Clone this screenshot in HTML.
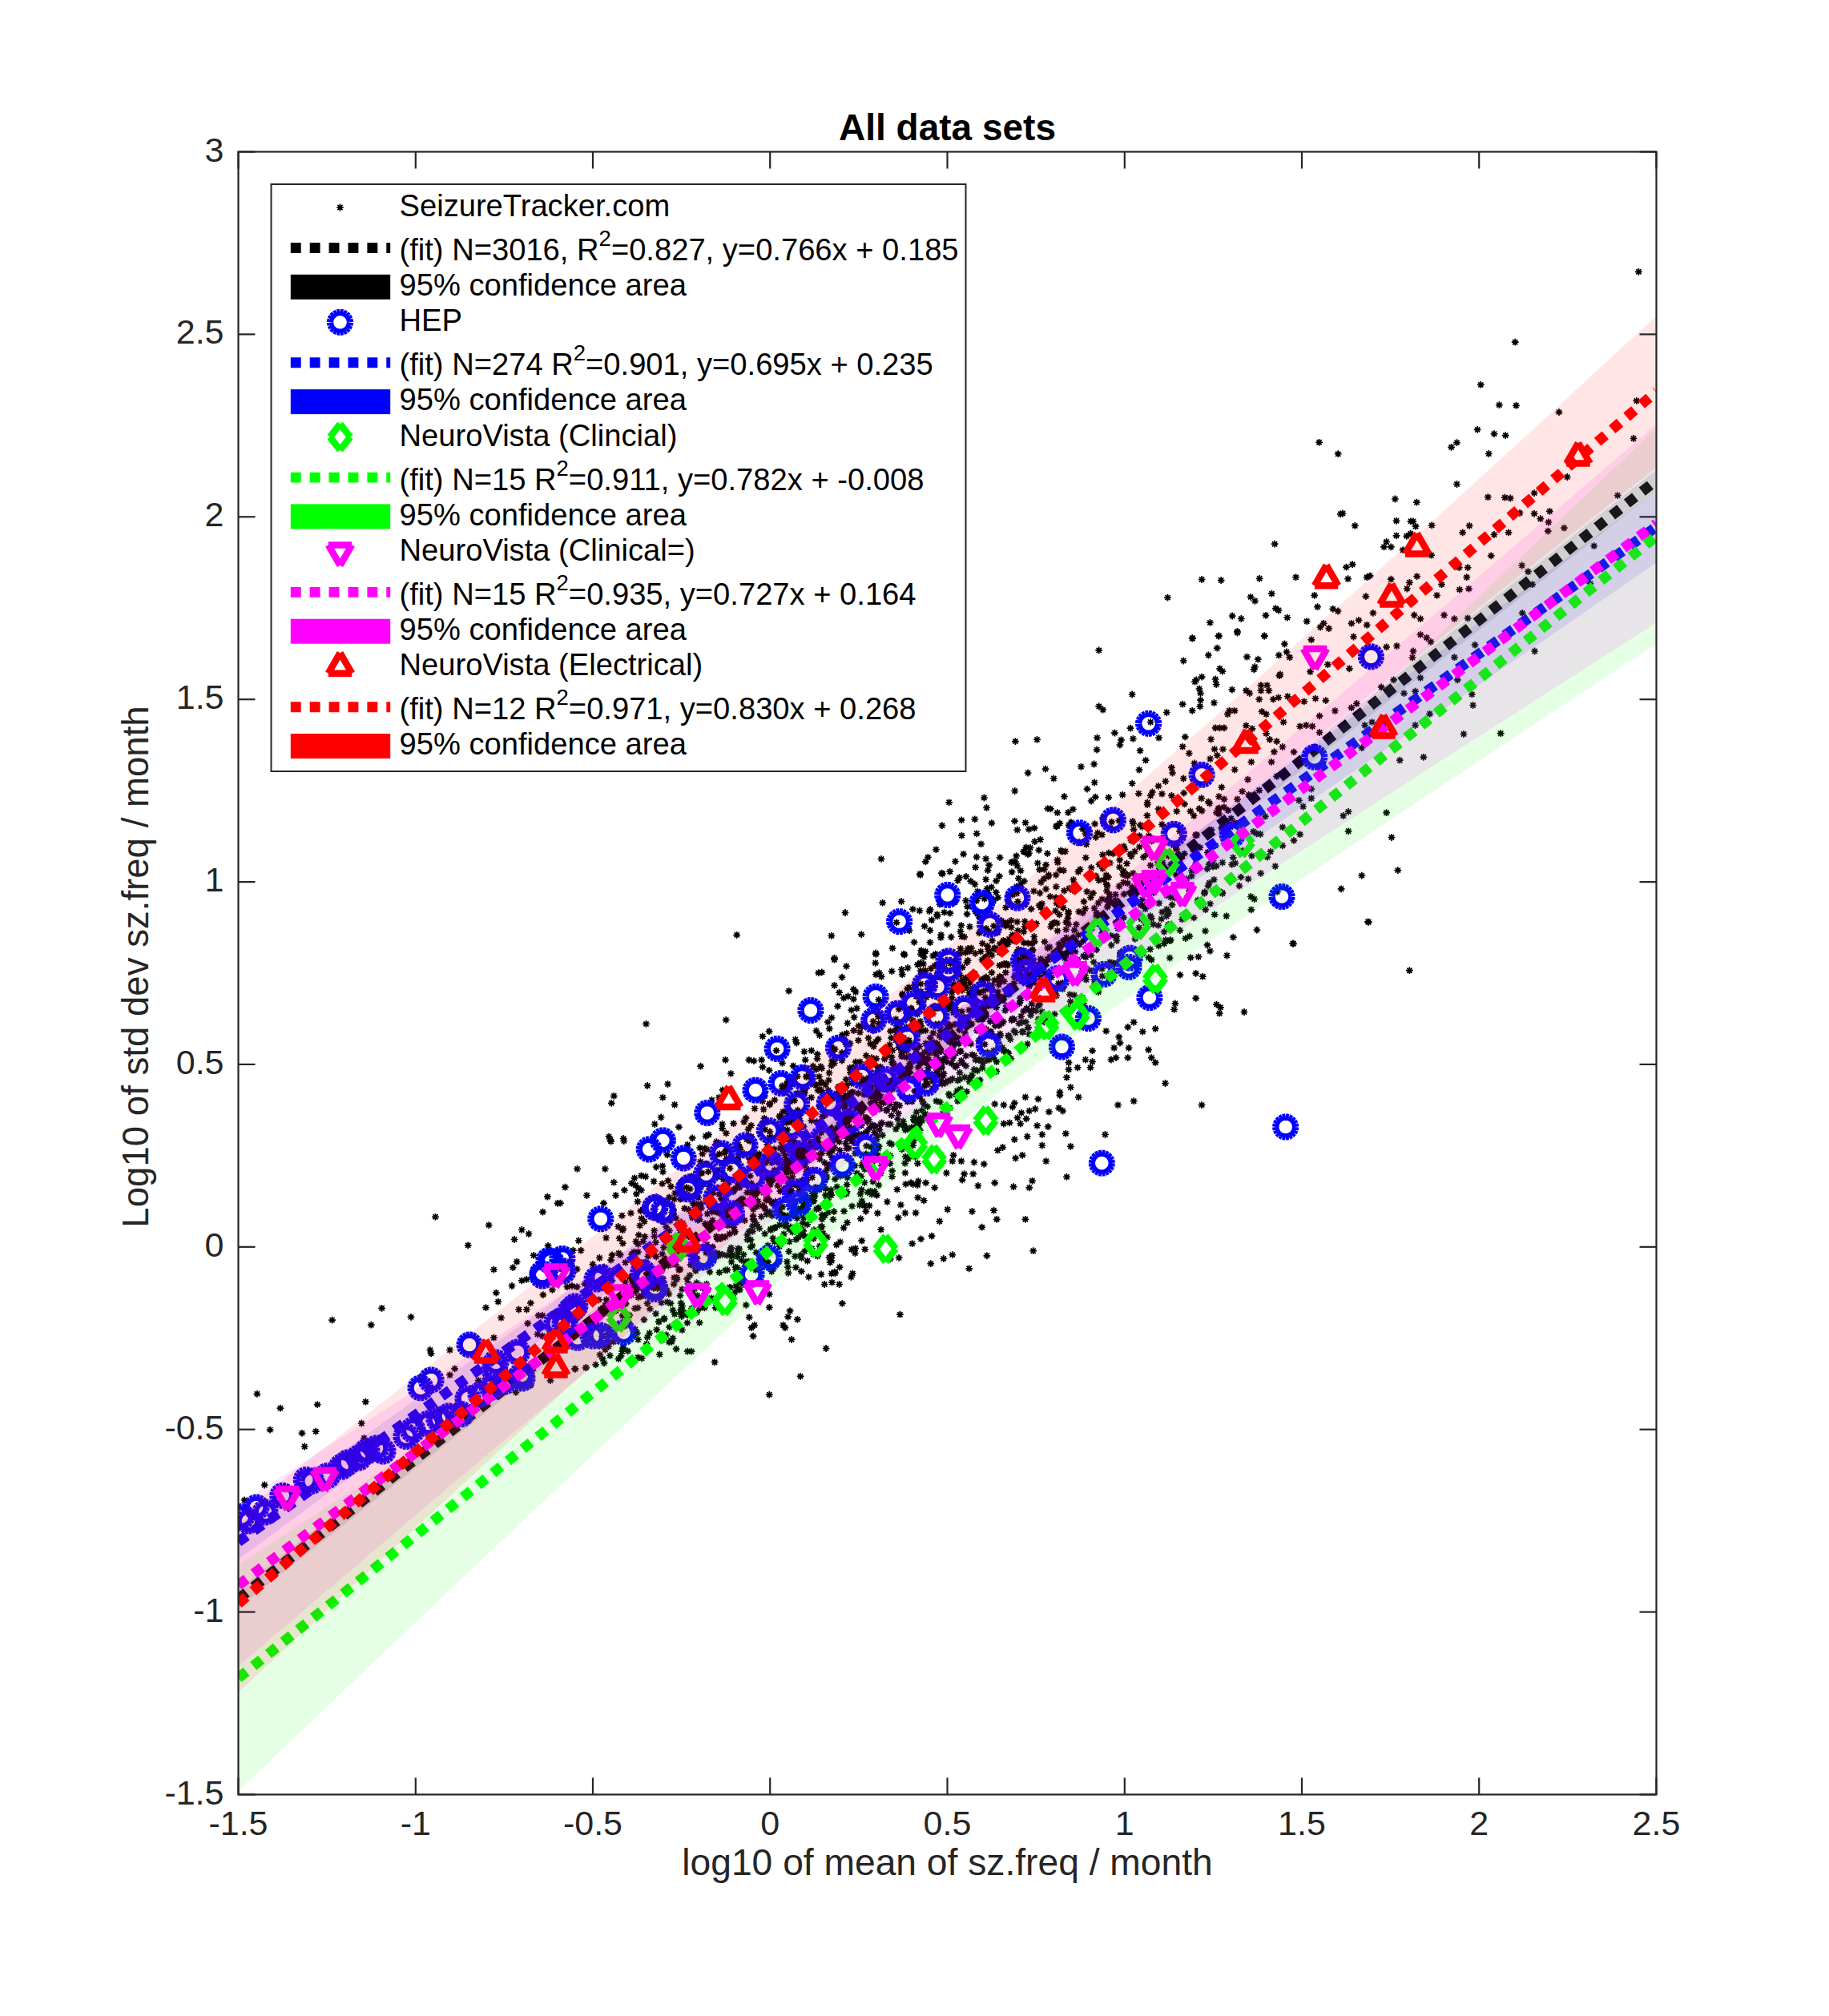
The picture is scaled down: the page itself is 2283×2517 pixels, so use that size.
<!DOCTYPE html><html><head><meta charset="utf-8"><style>html,body{margin:0;padding:0;background:#fff;width:2283px;height:2517px;overflow:hidden}svg{display:block}text{font-family:"Liberation Sans", sans-serif}</style></head><body>
<svg width="2283" height="2517" viewBox="0 0 2283 2517">
<rect width="100%" height="100%" fill="#fff"/>
<defs><clipPath id="ax"><rect x="297.5" y="189.5" width="1770.0" height="2051.0"/></clipPath>
<g id="s"><circle r="2.6"/><path d="M-4.4 0h8.8M0 -4.4v8.8M-3.1 -3.1l6.2 6.2M-3.1 3.1l6.2 -6.2" stroke="#000" stroke-width="1.7"/></g>
<path id="mc" d="M12.50 0.00L11.89 3.86M11.89 3.86L10.11 7.35M10.11 7.35L7.35 10.11M7.35 10.11L3.86 11.89M3.86 11.89L0.00 12.50M0.00 12.50L-3.86 11.89M-3.86 11.89L-7.35 10.11M-7.35 10.11L-10.11 7.35M-10.11 7.35L-11.89 3.86M-11.89 3.86L-12.50 0.00M-12.50 0.00L-11.89 -3.86M-11.89 -3.86L-10.11 -7.35M-10.11 -7.35L-7.35 -10.11M-7.35 -10.11L-3.86 -11.89M-3.86 -11.89L-0.00 -12.50M-0.00 -12.50L3.86 -11.89M3.86 -11.89L7.35 -10.11M7.35 -10.11L10.11 -7.35M10.11 -7.35L11.89 -3.86M11.89 -3.86L12.50 0.00" fill="none" stroke="#0000ff" stroke-width="8.4"/>
<path id="md" d="M0.00 -16.30L12.70 0.00M12.70 0.00L0.00 16.30M0.00 16.30L-12.70 0.00M-12.70 0.00L0.00 -16.30" fill="none" stroke="#00ff00" stroke-width="8.5"/>
<path id="mv" d="M0.00 17.00L14.72 -8.50M14.72 -8.50L-14.72 -8.50M-14.72 -8.50L0.00 17.00" fill="none" stroke="#ff00ff" stroke-width="8.5"/>
<path id="mu" d="M0.00 -17.00L14.72 8.50M14.72 8.50L-14.72 8.50M-14.72 8.50L0.00 -17.00" fill="none" stroke="#ff0000" stroke-width="8.5"/>
</defs>
<g clip-path="url(#ax)">
<g><use href="#s" x="1060.0" y="1386.8"/><use href="#s" x="1014.9" y="1331.2"/><use href="#s" x="944.9" y="1506.2"/><use href="#s" x="772.3" y="1564.7"/><use href="#s" x="851.3" y="1609.6"/><use href="#s" x="938.7" y="1491.5"/><use href="#s" x="1186.4" y="1202.9"/><use href="#s" x="1093.2" y="1382.0"/><use href="#s" x="1324.2" y="1062.0"/><use href="#s" x="1197.5" y="1095.7"/><use href="#s" x="1237.5" y="1121.9"/><use href="#s" x="1171.2" y="1313.3"/><use href="#s" x="1055.0" y="1367.8"/><use href="#s" x="1450.4" y="1029.3"/><use href="#s" x="873.2" y="1651.4"/><use href="#s" x="1234.6" y="1080.1"/><use href="#s" x="988.9" y="1463.0"/><use href="#s" x="1288.5" y="1227.1"/><use href="#s" x="1115.9" y="1350.3"/><use href="#s" x="1243.3" y="1114.1"/><use href="#s" x="1362.2" y="1083.5"/><use href="#s" x="960.8" y="1377.9"/><use href="#s" x="952.7" y="1573.9"/><use href="#s" x="1371.6" y="1099.1"/><use href="#s" x="960.7" y="1513.1"/><use href="#s" x="1287.1" y="1263.3"/><use href="#s" x="1157.7" y="1381.6"/><use href="#s" x="876.8" y="1440.6"/><use href="#s" x="1023.2" y="1447.2"/><use href="#s" x="1075.1" y="1405.2"/><use href="#s" x="985.0" y="1534.5"/><use href="#s" x="1087.6" y="1346.5"/><use href="#s" x="1456.2" y="1143.9"/><use href="#s" x="1156.6" y="1327.1"/><use href="#s" x="1198.9" y="1184.3"/><use href="#s" x="1155.8" y="1347.2"/><use href="#s" x="1110.8" y="1378.8"/><use href="#s" x="1053.3" y="1391.6"/><use href="#s" x="1060.6" y="1365.8"/><use href="#s" x="1205.0" y="1221.1"/><use href="#s" x="1168.5" y="1338.8"/><use href="#s" x="1240.5" y="1156.2"/><use href="#s" x="1011.5" y="1426.7"/><use href="#s" x="1138.4" y="1375.3"/><use href="#s" x="1218.0" y="1235.4"/><use href="#s" x="1233.5" y="1185.5"/><use href="#s" x="1024.7" y="1351.9"/><use href="#s" x="998.4" y="1443.0"/><use href="#s" x="1173.1" y="1129.1"/><use href="#s" x="920.4" y="1568.9"/><use href="#s" x="1334.1" y="1030.3"/><use href="#s" x="1273.9" y="1219.4"/><use href="#s" x="1133.8" y="1446.7"/><use href="#s" x="1134.7" y="1232.8"/><use href="#s" x="911.0" y="1607.3"/><use href="#s" x="1495.9" y="1194.6"/><use href="#s" x="906.8" y="1434.8"/><use href="#s" x="976.8" y="1435.4"/><use href="#s" x="866.2" y="1623.2"/><use href="#s" x="1030.4" y="1472.5"/><use href="#s" x="1366.0" y="1134.0"/><use href="#s" x="900.9" y="1544.8"/><use href="#s" x="1150.8" y="1386.4"/><use href="#s" x="1445.3" y="1076.1"/><use href="#s" x="1147.4" y="1401.1"/><use href="#s" x="912.6" y="1557.9"/><use href="#s" x="1162.0" y="1209.3"/><use href="#s" x="771.7" y="1531.5"/><use href="#s" x="753.5" y="1637.8"/><use href="#s" x="1514.0" y="1082.2"/><use href="#s" x="1250.0" y="1149.5"/><use href="#s" x="1038.0" y="1574.0"/><use href="#s" x="982.0" y="1353.5"/><use href="#s" x="1321.7" y="1128.9"/><use href="#s" x="1080.9" y="1440.6"/><use href="#s" x="1095.1" y="1417.3"/><use href="#s" x="913.8" y="1449.0"/><use href="#s" x="1062.7" y="1364.5"/><use href="#s" x="849.0" y="1617.6"/><use href="#s" x="977.9" y="1422.5"/><use href="#s" x="1490.2" y="1145.9"/><use href="#s" x="1054.8" y="1393.8"/><use href="#s" x="1184.7" y="1001.8"/><use href="#s" x="775.3" y="1624.4"/><use href="#s" x="1237.9" y="1214.4"/><use href="#s" x="983.5" y="1582.1"/><use href="#s" x="1121.4" y="1390.1"/><use href="#s" x="1086.9" y="1376.9"/><use href="#s" x="754.1" y="1701.8"/><use href="#s" x="1071.3" y="1365.0"/><use href="#s" x="1432.2" y="1004.7"/><use href="#s" x="942.8" y="1487.2"/><use href="#s" x="1148.2" y="1369.3"/><use href="#s" x="833.9" y="1474.2"/><use href="#s" x="1487.5" y="1093.7"/><use href="#s" x="965.1" y="1466.9"/><use href="#s" x="1090.9" y="1388.6"/><use href="#s" x="1137.0" y="1264.4"/><use href="#s" x="1241.5" y="1223.7"/><use href="#s" x="762.3" y="1665.1"/><use href="#s" x="1246.7" y="1229.5"/><use href="#s" x="1366.6" y="1028.6"/><use href="#s" x="996.7" y="1544.5"/><use href="#s" x="944.0" y="1443.7"/><use href="#s" x="1439.4" y="1154.0"/><use href="#s" x="1151.4" y="1374.8"/><use href="#s" x="1514.0" y="1074.7"/><use href="#s" x="1247.6" y="1189.0"/><use href="#s" x="905.4" y="1585.9"/><use href="#s" x="1071.8" y="1281.0"/><use href="#s" x="867.0" y="1609.0"/><use href="#s" x="1339.8" y="1098.5"/><use href="#s" x="1187.8" y="1327.9"/><use href="#s" x="1131.5" y="1282.5"/><use href="#s" x="1153.8" y="1356.0"/><use href="#s" x="1204.1" y="1345.0"/><use href="#s" x="1468.4" y="1060.3"/><use href="#s" x="1053.4" y="1414.5"/><use href="#s" x="1334.6" y="1109.2"/><use href="#s" x="975.1" y="1419.5"/><use href="#s" x="1351.4" y="1035.1"/><use href="#s" x="1344.3" y="1204.6"/><use href="#s" x="1210.1" y="1350.6"/><use href="#s" x="1257.9" y="1205.0"/><use href="#s" x="895.6" y="1469.3"/><use href="#s" x="973.3" y="1514.6"/><use href="#s" x="1232.1" y="1250.3"/><use href="#s" x="1236.9" y="1288.2"/><use href="#s" x="1458.6" y="1068.5"/><use href="#s" x="960.8" y="1379.0"/><use href="#s" x="947.1" y="1445.9"/><use href="#s" x="803.0" y="1607.8"/><use href="#s" x="1253.3" y="1225.2"/><use href="#s" x="1424.6" y="1147.6"/><use href="#s" x="976.5" y="1359.0"/><use href="#s" x="798.8" y="1530.1"/><use href="#s" x="1044.4" y="1367.4"/><use href="#s" x="1278.0" y="1177.1"/><use href="#s" x="1146.3" y="1474.6"/><use href="#s" x="1005.6" y="1511.2"/><use href="#s" x="1053.5" y="1512.2"/><use href="#s" x="1014.2" y="1490.2"/><use href="#s" x="1144.1" y="1314.4"/><use href="#s" x="973.1" y="1547.9"/><use href="#s" x="1492.4" y="1079.0"/><use href="#s" x="1320.3" y="1076.8"/><use href="#s" x="1115.2" y="1327.7"/><use href="#s" x="1489.4" y="1061.1"/><use href="#s" x="1258.6" y="1292.9"/><use href="#s" x="1108.1" y="1360.6"/><use href="#s" x="921.2" y="1563.4"/><use href="#s" x="1311.4" y="1009.9"/><use href="#s" x="911.7" y="1561.8"/><use href="#s" x="1187.4" y="1252.8"/><use href="#s" x="876.2" y="1464.4"/><use href="#s" x="1385.8" y="1033.6"/><use href="#s" x="1054.9" y="1301.0"/><use href="#s" x="1096.2" y="1434.0"/><use href="#s" x="1433.9" y="1043.6"/><use href="#s" x="1536.7" y="1021.9"/><use href="#s" x="921.1" y="1523.8"/><use href="#s" x="1280.8" y="1057.9"/><use href="#s" x="1539.3" y="1170.1"/><use href="#s" x="1348.6" y="1221.9"/><use href="#s" x="1535.9" y="1032.6"/><use href="#s" x="1351.3" y="1245.8"/><use href="#s" x="1069.7" y="1396.4"/><use href="#s" x="1087.3" y="1356.4"/><use href="#s" x="1088.0" y="1320.6"/><use href="#s" x="1216.2" y="1317.8"/><use href="#s" x="1131.0" y="1339.2"/><use href="#s" x="1210.5" y="1224.1"/><use href="#s" x="1581.9" y="1070.1"/><use href="#s" x="1122.8" y="1380.3"/><use href="#s" x="832.5" y="1611.1"/><use href="#s" x="1224.4" y="1296.2"/><use href="#s" x="1198.9" y="1162.9"/><use href="#s" x="772.0" y="1696.6"/><use href="#s" x="1013.3" y="1558.9"/><use href="#s" x="951.6" y="1374.8"/><use href="#s" x="1178.9" y="1201.4"/><use href="#s" x="1229.3" y="1257.0"/><use href="#s" x="981.7" y="1471.7"/><use href="#s" x="1068.3" y="1338.7"/><use href="#s" x="762.6" y="1573.1"/><use href="#s" x="1316.5" y="1151.7"/><use href="#s" x="1427.2" y="1101.9"/><use href="#s" x="1213.4" y="1316.8"/><use href="#s" x="1384.0" y="1064.9"/><use href="#s" x="1510.4" y="1187.4"/><use href="#s" x="1170.7" y="1335.3"/><use href="#s" x="849.8" y="1476.5"/><use href="#s" x="1209.6" y="1261.0"/><use href="#s" x="1090.9" y="1406.6"/><use href="#s" x="1512.1" y="1036.1"/><use href="#s" x="1144.2" y="1318.2"/><use href="#s" x="1349.7" y="1219.4"/><use href="#s" x="871.8" y="1510.7"/><use href="#s" x="1212.9" y="1278.5"/><use href="#s" x="1217.8" y="1323.3"/><use href="#s" x="1073.5" y="1325.8"/><use href="#s" x="1085.6" y="1328.3"/><use href="#s" x="1107.0" y="1374.2"/><use href="#s" x="995.8" y="1364.8"/><use href="#s" x="954.0" y="1506.9"/><use href="#s" x="932.7" y="1488.9"/><use href="#s" x="1280.0" y="1027.2"/><use href="#s" x="1025.7" y="1333.8"/><use href="#s" x="1193.1" y="1315.0"/><use href="#s" x="1521.5" y="1112.8"/><use href="#s" x="843.6" y="1579.1"/><use href="#s" x="896.6" y="1567.9"/><use href="#s" x="1518.4" y="1014.6"/><use href="#s" x="1252.5" y="1174.3"/><use href="#s" x="1272.2" y="1307.7"/><use href="#s" x="1318.6" y="1243.2"/><use href="#s" x="1126.6" y="1345.6"/><use href="#s" x="831.5" y="1531.9"/><use href="#s" x="1126.1" y="1366.0"/><use href="#s" x="983.6" y="1349.8"/><use href="#s" x="1187.2" y="1170.0"/><use href="#s" x="829.1" y="1646.0"/><use href="#s" x="1414.5" y="1028.4"/><use href="#s" x="1231.2" y="1285.0"/><use href="#s" x="1191.7" y="1295.2"/><use href="#s" x="1243.6" y="1257.8"/><use href="#s" x="1266.0" y="1272.7"/><use href="#s" x="1041.5" y="1432.7"/><use href="#s" x="1438.1" y="1111.3"/><use href="#s" x="1219.8" y="1140.7"/><use href="#s" x="1152.4" y="1323.4"/><use href="#s" x="1194.4" y="1211.4"/><use href="#s" x="1089.9" y="1286.8"/><use href="#s" x="1131.9" y="1284.1"/><use href="#s" x="1074.0" y="1490.7"/><use href="#s" x="777.8" y="1682.3"/><use href="#s" x="1053.1" y="1394.0"/><use href="#s" x="981.4" y="1451.4"/><use href="#s" x="1247.4" y="1093.9"/><use href="#s" x="976.7" y="1516.8"/><use href="#s" x="1145.4" y="1479.5"/><use href="#s" x="1568.7" y="1040.8"/><use href="#s" x="1437.5" y="1046.5"/><use href="#s" x="1331.0" y="1170.8"/><use href="#s" x="1264.5" y="1076.0"/><use href="#s" x="915.7" y="1532.1"/><use href="#s" x="1257.6" y="1151.8"/><use href="#s" x="881.3" y="1611.0"/><use href="#s" x="1352.2" y="1174.8"/><use href="#s" x="830.7" y="1608.6"/><use href="#s" x="1124.9" y="1355.5"/><use href="#s" x="1007.4" y="1473.3"/><use href="#s" x="844.8" y="1597.4"/><use href="#s" x="1137.0" y="1265.1"/><use href="#s" x="1291.7" y="1226.1"/><use href="#s" x="820.6" y="1608.6"/><use href="#s" x="1202.9" y="1223.2"/><use href="#s" x="1118.3" y="1409.7"/><use href="#s" x="1351.5" y="1204.6"/><use href="#s" x="981.4" y="1401.7"/><use href="#s" x="1130.2" y="1432.0"/><use href="#s" x="1002.4" y="1362.7"/><use href="#s" x="1289.2" y="1154.2"/><use href="#s" x="1175.0" y="1295.0"/><use href="#s" x="975.6" y="1414.3"/><use href="#s" x="910.8" y="1514.1"/><use href="#s" x="1024.6" y="1532.0"/><use href="#s" x="1318.1" y="1092.4"/><use href="#s" x="1155.1" y="1392.5"/><use href="#s" x="1101.1" y="1355.8"/><use href="#s" x="1291.2" y="1033.9"/><use href="#s" x="763.7" y="1590.7"/><use href="#s" x="1064.8" y="1332.6"/><use href="#s" x="843.7" y="1520.8"/><use href="#s" x="1113.0" y="1319.9"/><use href="#s" x="1452.4" y="1099.8"/><use href="#s" x="850.0" y="1627.0"/><use href="#s" x="844.6" y="1565.1"/><use href="#s" x="918.0" y="1483.9"/><use href="#s" x="958.7" y="1575.9"/><use href="#s" x="791.9" y="1568.7"/><use href="#s" x="902.9" y="1472.4"/><use href="#s" x="1030.6" y="1484.1"/><use href="#s" x="1288.2" y="1178.0"/><use href="#s" x="1018.9" y="1335.1"/><use href="#s" x="1515.3" y="1098.3"/><use href="#s" x="1354.4" y="1218.2"/><use href="#s" x="981.2" y="1448.1"/><use href="#s" x="1421.8" y="1158.3"/><use href="#s" x="863.1" y="1515.2"/><use href="#s" x="1181.3" y="1318.8"/><use href="#s" x="1322.3" y="1141.9"/><use href="#s" x="999.0" y="1475.7"/><use href="#s" x="1057.5" y="1526.5"/><use href="#s" x="1458.3" y="1154.5"/><use href="#s" x="849.4" y="1488.5"/><use href="#s" x="1017.5" y="1430.8"/><use href="#s" x="1246.5" y="1150.4"/><use href="#s" x="1206.7" y="1362.9"/><use href="#s" x="1176.5" y="1091.0"/><use href="#s" x="929.5" y="1523.7"/><use href="#s" x="1149.2" y="1395.8"/><use href="#s" x="1240.2" y="1312.0"/><use href="#s" x="1490.2" y="1018.5"/><use href="#s" x="1071.9" y="1416.2"/><use href="#s" x="1187.6" y="1256.4"/><use href="#s" x="1410.8" y="1066.3"/><use href="#s" x="856.4" y="1564.8"/><use href="#s" x="1452.9" y="1064.8"/><use href="#s" x="1245.7" y="1120.6"/><use href="#s" x="1116.4" y="1384.2"/><use href="#s" x="885.1" y="1481.1"/><use href="#s" x="915.6" y="1528.7"/><use href="#s" x="983.4" y="1390.4"/><use href="#s" x="882.4" y="1554.0"/><use href="#s" x="1042.5" y="1589.5"/><use href="#s" x="1446.7" y="1127.7"/><use href="#s" x="822.4" y="1650.0"/><use href="#s" x="1533.5" y="1043.0"/><use href="#s" x="1003.1" y="1505.0"/><use href="#s" x="1291.6" y="1050.7"/><use href="#s" x="1296.7" y="1061.4"/><use href="#s" x="1382.2" y="1106.0"/><use href="#s" x="961.8" y="1534.5"/><use href="#s" x="1047.9" y="1360.9"/><use href="#s" x="756.8" y="1622.7"/><use href="#s" x="1253.8" y="1179.6"/><use href="#s" x="1132.6" y="1375.5"/><use href="#s" x="832.8" y="1625.6"/><use href="#s" x="1237.5" y="1107.6"/><use href="#s" x="1002.1" y="1508.7"/><use href="#s" x="1238.6" y="1230.0"/><use href="#s" x="1177.9" y="1340.2"/><use href="#s" x="1262.3" y="1231.3"/><use href="#s" x="1027.8" y="1385.8"/><use href="#s" x="861.3" y="1484.4"/><use href="#s" x="1231.7" y="1323.5"/><use href="#s" x="1300.7" y="1263.2"/><use href="#s" x="1330.5" y="1190.5"/><use href="#s" x="1328.4" y="1112.1"/><use href="#s" x="1378.5" y="1167.0"/><use href="#s" x="1139.7" y="1478.6"/><use href="#s" x="912.2" y="1506.6"/><use href="#s" x="873.2" y="1522.6"/><use href="#s" x="801.2" y="1617.7"/><use href="#s" x="1059.4" y="1370.1"/><use href="#s" x="917.4" y="1517.1"/><use href="#s" x="955.5" y="1444.1"/><use href="#s" x="927.7" y="1497.0"/><use href="#s" x="1509.9" y="1003.0"/><use href="#s" x="1107.4" y="1500.5"/><use href="#s" x="1060.0" y="1447.3"/><use href="#s" x="1159.1" y="1322.9"/><use href="#s" x="769.1" y="1626.9"/><use href="#s" x="1415.1" y="1035.6"/><use href="#s" x="1293.5" y="1216.1"/><use href="#s" x="1013.8" y="1470.0"/><use href="#s" x="1257.9" y="1178.9"/><use href="#s" x="1184.7" y="1282.6"/><use href="#s" x="1128.5" y="1405.1"/><use href="#s" x="1295.3" y="1077.6"/><use href="#s" x="985.1" y="1494.8"/><use href="#s" x="1090.0" y="1275.3"/><use href="#s" x="1242.2" y="1280.8"/><use href="#s" x="1116.2" y="1384.8"/><use href="#s" x="792.7" y="1598.6"/><use href="#s" x="985.4" y="1550.2"/><use href="#s" x="775.9" y="1589.8"/><use href="#s" x="910.8" y="1540.4"/><use href="#s" x="887.8" y="1620.8"/><use href="#s" x="1080.2" y="1348.3"/><use href="#s" x="868.0" y="1584.2"/><use href="#s" x="863.3" y="1468.6"/><use href="#s" x="906.2" y="1528.2"/><use href="#s" x="1126.4" y="1241.0"/><use href="#s" x="856.3" y="1560.8"/><use href="#s" x="1259.4" y="1241.3"/><use href="#s" x="1129.8" y="1429.5"/><use href="#s" x="1237.7" y="1293.7"/><use href="#s" x="1472.6" y="1037.8"/><use href="#s" x="826.2" y="1673.0"/><use href="#s" x="875.3" y="1508.4"/><use href="#s" x="988.0" y="1505.2"/><use href="#s" x="1026.3" y="1394.0"/><use href="#s" x="1120.8" y="1353.6"/><use href="#s" x="1435.7" y="1047.6"/><use href="#s" x="817.5" y="1604.3"/><use href="#s" x="1088.1" y="1383.5"/><use href="#s" x="1341.4" y="1103.9"/><use href="#s" x="1276.6" y="1288.2"/><use href="#s" x="864.3" y="1520.3"/><use href="#s" x="1025.8" y="1439.8"/><use href="#s" x="904.3" y="1467.4"/><use href="#s" x="1027.4" y="1539.8"/><use href="#s" x="1011.5" y="1444.8"/><use href="#s" x="1075.1" y="1352.0"/><use href="#s" x="1414.4" y="1090.3"/><use href="#s" x="1264.1" y="1117.0"/><use href="#s" x="1252.3" y="1151.7"/><use href="#s" x="1356.0" y="1167.1"/><use href="#s" x="856.9" y="1482.6"/><use href="#s" x="1088.7" y="1404.5"/><use href="#s" x="956.5" y="1398.8"/><use href="#s" x="1312.5" y="1220.2"/><use href="#s" x="869.9" y="1503.7"/><use href="#s" x="961.3" y="1479.3"/><use href="#s" x="1435.7" y="1185.2"/><use href="#s" x="1038.0" y="1307.2"/><use href="#s" x="1310.3" y="1182.5"/><use href="#s" x="1329.7" y="1179.1"/><use href="#s" x="1057.5" y="1445.8"/><use href="#s" x="1118.3" y="1378.7"/><use href="#s" x="1196.6" y="1296.2"/><use href="#s" x="1191.0" y="1314.9"/><use href="#s" x="1149.4" y="1191.3"/><use href="#s" x="999.5" y="1435.3"/><use href="#s" x="1233.9" y="1255.7"/><use href="#s" x="808.0" y="1627.4"/><use href="#s" x="1100.7" y="1401.8"/><use href="#s" x="1046.3" y="1357.2"/><use href="#s" x="907.3" y="1567.3"/><use href="#s" x="1293.1" y="1262.0"/><use href="#s" x="838.3" y="1549.4"/><use href="#s" x="1478.5" y="1003.9"/><use href="#s" x="1121.3" y="1520.4"/><use href="#s" x="873.9" y="1633.3"/><use href="#s" x="1323.0" y="1086.2"/><use href="#s" x="826.8" y="1583.4"/><use href="#s" x="1075.8" y="1455.3"/><use href="#s" x="1254.9" y="1204.2"/><use href="#s" x="1458.6" y="1140.3"/><use href="#s" x="1547.0" y="1106.0"/><use href="#s" x="1246.9" y="1280.4"/><use href="#s" x="1236.2" y="1288.4"/><use href="#s" x="942.9" y="1456.3"/><use href="#s" x="787.5" y="1514.6"/><use href="#s" x="1232.4" y="1313.9"/><use href="#s" x="1170.0" y="1324.5"/><use href="#s" x="773.7" y="1656.8"/><use href="#s" x="1126.4" y="1285.4"/><use href="#s" x="1372.1" y="1079.2"/><use href="#s" x="800.9" y="1618.2"/><use href="#s" x="800.8" y="1521.2"/><use href="#s" x="759.0" y="1665.9"/><use href="#s" x="1219.0" y="1070.0"/><use href="#s" x="1524.6" y="1034.0"/><use href="#s" x="1280.5" y="1275.9"/><use href="#s" x="1002.2" y="1542.2"/><use href="#s" x="1516.1" y="1141.9"/><use href="#s" x="1078.6" y="1366.6"/><use href="#s" x="1019.0" y="1509.6"/><use href="#s" x="1190.2" y="1229.0"/><use href="#s" x="1295.6" y="1256.0"/><use href="#s" x="1135.2" y="1330.7"/><use href="#s" x="777.8" y="1534.0"/><use href="#s" x="1453.2" y="1178.1"/><use href="#s" x="1311.7" y="1157.0"/><use href="#s" x="951.6" y="1505.3"/><use href="#s" x="981.4" y="1359.8"/><use href="#s" x="1042.3" y="1472.1"/><use href="#s" x="1289.8" y="1260.9"/><use href="#s" x="1397.5" y="1082.6"/><use href="#s" x="1007.6" y="1528.8"/><use href="#s" x="756.6" y="1545.5"/><use href="#s" x="925.6" y="1573.3"/><use href="#s" x="996.9" y="1439.1"/><use href="#s" x="867.0" y="1504.8"/><use href="#s" x="1332.9" y="1146.4"/><use href="#s" x="748.8" y="1691.5"/><use href="#s" x="1284.5" y="1231.1"/><use href="#s" x="1226.7" y="1272.2"/><use href="#s" x="1112.5" y="1295.9"/><use href="#s" x="1248.6" y="1220.1"/><use href="#s" x="1111.4" y="1403.6"/><use href="#s" x="1126.6" y="1318.3"/><use href="#s" x="857.9" y="1651.6"/><use href="#s" x="1240.3" y="1124.7"/><use href="#s" x="1308.3" y="1198.2"/><use href="#s" x="861.0" y="1615.0"/><use href="#s" x="1461.6" y="1079.4"/><use href="#s" x="1155.3" y="1075.9"/><use href="#s" x="1131.6" y="1264.8"/><use href="#s" x="923.4" y="1482.7"/><use href="#s" x="1220.0" y="1336.8"/><use href="#s" x="1216.7" y="1215.4"/><use href="#s" x="949.3" y="1576.8"/><use href="#s" x="831.7" y="1575.3"/><use href="#s" x="825.3" y="1587.0"/><use href="#s" x="1277.8" y="1163.3"/><use href="#s" x="1486.2" y="1195.6"/><use href="#s" x="839.4" y="1557.4"/><use href="#s" x="1241.2" y="1183.9"/><use href="#s" x="915.9" y="1509.5"/><use href="#s" x="943.0" y="1486.2"/><use href="#s" x="1475.6" y="1147.8"/><use href="#s" x="1222.1" y="1323.6"/><use href="#s" x="1127.4" y="1400.0"/><use href="#s" x="1005.6" y="1518.0"/><use href="#s" x="1568.9" y="1161.0"/><use href="#s" x="844.6" y="1594.9"/><use href="#s" x="942.6" y="1492.2"/><use href="#s" x="1054.5" y="1415.7"/><use href="#s" x="857.6" y="1596.9"/><use href="#s" x="1269.6" y="1189.3"/><use href="#s" x="952.6" y="1450.7"/><use href="#s" x="1265.8" y="1227.9"/><use href="#s" x="850.4" y="1541.8"/><use href="#s" x="1422.4" y="1043.7"/><use href="#s" x="1192.2" y="1302.6"/><use href="#s" x="1175.4" y="1332.0"/><use href="#s" x="1331.0" y="1190.6"/><use href="#s" x="1010.4" y="1496.4"/><use href="#s" x="1456.3" y="1135.3"/><use href="#s" x="1039.0" y="1426.5"/><use href="#s" x="819.4" y="1603.7"/><use href="#s" x="777.9" y="1683.1"/><use href="#s" x="1064.3" y="1393.2"/><use href="#s" x="1018.5" y="1355.3"/><use href="#s" x="989.0" y="1538.2"/><use href="#s" x="997.9" y="1488.2"/><use href="#s" x="1220.3" y="1113.0"/><use href="#s" x="1521.7" y="1016.2"/><use href="#s" x="1084.9" y="1324.6"/><use href="#s" x="898.3" y="1565.6"/><use href="#s" x="975.9" y="1426.6"/><use href="#s" x="788.0" y="1616.8"/><use href="#s" x="805.8" y="1576.1"/><use href="#s" x="1383.5" y="1095.2"/><use href="#s" x="1053.1" y="1533.0"/><use href="#s" x="1158.5" y="1333.1"/><use href="#s" x="1176.1" y="1353.3"/><use href="#s" x="1416.0" y="1119.1"/><use href="#s" x="1254.7" y="1261.6"/><use href="#s" x="986.6" y="1453.4"/><use href="#s" x="1080.8" y="1512.4"/><use href="#s" x="1352.5" y="1193.7"/><use href="#s" x="1137.1" y="1476.7"/><use href="#s" x="1025.4" y="1361.9"/><use href="#s" x="1226.2" y="1333.3"/><use href="#s" x="1415.5" y="1146.3"/><use href="#s" x="921.6" y="1429.1"/><use href="#s" x="849.3" y="1639.0"/><use href="#s" x="1252.3" y="1275.7"/><use href="#s" x="1273.3" y="1246.0"/><use href="#s" x="1496.9" y="1009.7"/><use href="#s" x="984.0" y="1481.5"/><use href="#s" x="1091.6" y="1376.7"/><use href="#s" x="973.9" y="1487.2"/><use href="#s" x="1297.1" y="1233.8"/><use href="#s" x="835.6" y="1656.9"/><use href="#s" x="1268.9" y="1107.0"/><use href="#s" x="1137.1" y="1258.8"/><use href="#s" x="1288.0" y="1220.0"/><use href="#s" x="1046.7" y="1365.0"/><use href="#s" x="1238.1" y="1319.1"/><use href="#s" x="1303.4" y="1085.4"/><use href="#s" x="1015.9" y="1498.8"/><use href="#s" x="1002.3" y="1480.1"/><use href="#s" x="839.0" y="1505.5"/><use href="#s" x="1091.9" y="1381.4"/><use href="#s" x="1192.4" y="1075.5"/><use href="#s" x="1093.9" y="1382.0"/><use href="#s" x="1204.1" y="1227.2"/><use href="#s" x="930.3" y="1575.7"/><use href="#s" x="836.0" y="1552.7"/><use href="#s" x="1142.3" y="1323.3"/><use href="#s" x="1259.1" y="1293.6"/><use href="#s" x="1539.2" y="1070.8"/><use href="#s" x="1283.0" y="1196.7"/><use href="#s" x="1143.7" y="1397.1"/><use href="#s" x="1123.9" y="1344.9"/><use href="#s" x="874.5" y="1605.0"/><use href="#s" x="1355.8" y="1223.2"/><use href="#s" x="884.1" y="1462.9"/><use href="#s" x="1507.4" y="1064.3"/><use href="#s" x="1335.4" y="1241.6"/><use href="#s" x="941.2" y="1441.2"/><use href="#s" x="1143.5" y="1244.0"/><use href="#s" x="1058.3" y="1417.9"/><use href="#s" x="1000.6" y="1474.1"/><use href="#s" x="837.1" y="1627.4"/><use href="#s" x="1298.0" y="1115.0"/><use href="#s" x="1050.9" y="1324.0"/><use href="#s" x="967.8" y="1532.5"/><use href="#s" x="1361.4" y="1120.5"/><use href="#s" x="870.1" y="1570.9"/><use href="#s" x="1086.3" y="1365.7"/><use href="#s" x="1152.1" y="1256.1"/><use href="#s" x="937.6" y="1405.1"/><use href="#s" x="873.7" y="1433.2"/><use href="#s" x="765.8" y="1675.2"/><use href="#s" x="951.9" y="1461.8"/><use href="#s" x="1061.0" y="1302.7"/><use href="#s" x="854.9" y="1494.4"/><use href="#s" x="1576.1" y="1066.8"/><use href="#s" x="826.6" y="1477.9"/><use href="#s" x="1170.2" y="1214.8"/><use href="#s" x="1336.9" y="1026.6"/><use href="#s" x="932.2" y="1422.5"/><use href="#s" x="1217.6" y="1137.9"/><use href="#s" x="917.4" y="1537.5"/><use href="#s" x="1472.9" y="1161.5"/><use href="#s" x="1484.8" y="1168.9"/><use href="#s" x="816.9" y="1543.6"/><use href="#s" x="1040.6" y="1421.8"/><use href="#s" x="1135.3" y="1370.3"/><use href="#s" x="1369.6" y="1232.2"/><use href="#s" x="1316.0" y="1241.2"/><use href="#s" x="1167.0" y="1205.4"/><use href="#s" x="1037.6" y="1330.6"/><use href="#s" x="1155.2" y="1390.8"/><use href="#s" x="859.7" y="1543.9"/><use href="#s" x="1245.4" y="1164.3"/><use href="#s" x="1029.6" y="1517.5"/><use href="#s" x="1389.6" y="1202.9"/><use href="#s" x="823.4" y="1691.0"/><use href="#s" x="1111.1" y="1571.8"/><use href="#s" x="1200.0" y="1324.3"/><use href="#s" x="1275.5" y="1207.0"/><use href="#s" x="992.8" y="1400.6"/><use href="#s" x="760.4" y="1662.2"/><use href="#s" x="788.6" y="1566.0"/><use href="#s" x="1149.7" y="1287.5"/><use href="#s" x="936.4" y="1468.1"/><use href="#s" x="1381.6" y="1123.6"/><use href="#s" x="1495.2" y="1123.9"/><use href="#s" x="1046.3" y="1414.5"/><use href="#s" x="754.0" y="1582.0"/><use href="#s" x="1321.1" y="1228.0"/><use href="#s" x="1234.9" y="1188.6"/><use href="#s" x="1380.8" y="1092.7"/><use href="#s" x="1155.2" y="1187.9"/><use href="#s" x="869.6" y="1638.6"/><use href="#s" x="1427.4" y="1070.2"/><use href="#s" x="1255.5" y="1133.1"/><use href="#s" x="1165.5" y="1258.0"/><use href="#s" x="1116.8" y="1253.6"/><use href="#s" x="1217.4" y="1190.4"/><use href="#s" x="1056.3" y="1304.1"/><use href="#s" x="1277.5" y="1262.5"/><use href="#s" x="1084.0" y="1296.0"/><use href="#s" x="1009.1" y="1460.4"/><use href="#s" x="1049.1" y="1405.2"/><use href="#s" x="1144.8" y="1364.4"/><use href="#s" x="963.7" y="1517.8"/><use href="#s" x="921.7" y="1601.6"/><use href="#s" x="928.7" y="1400.7"/><use href="#s" x="1082.5" y="1364.7"/><use href="#s" x="1224.2" y="1188.1"/><use href="#s" x="1180.4" y="1189.1"/><use href="#s" x="813.7" y="1595.2"/><use href="#s" x="1287.4" y="1157.3"/><use href="#s" x="1015.1" y="1443.6"/><use href="#s" x="886.4" y="1507.2"/><use href="#s" x="1398.5" y="1190.6"/><use href="#s" x="1333.7" y="1153.8"/><use href="#s" x="1230.6" y="1072.2"/><use href="#s" x="1034.1" y="1361.1"/><use href="#s" x="1091.2" y="1439.3"/><use href="#s" x="1192.5" y="1332.1"/><use href="#s" x="1131.8" y="1342.7"/><use href="#s" x="1392.4" y="1116.8"/><use href="#s" x="1119.9" y="1291.7"/><use href="#s" x="1174.6" y="1167.2"/><use href="#s" x="1021.6" y="1441.8"/><use href="#s" x="1170.0" y="1143.9"/><use href="#s" x="1449.7" y="1147.4"/><use href="#s" x="1354.7" y="1134.5"/><use href="#s" x="1224.6" y="1053.8"/><use href="#s" x="1095.6" y="1266.2"/><use href="#s" x="907.9" y="1585.6"/><use href="#s" x="1277.5" y="1193.8"/><use href="#s" x="923.0" y="1559.5"/><use href="#s" x="957.1" y="1448.8"/><use href="#s" x="1242.6" y="1184.9"/><use href="#s" x="1175.2" y="1333.2"/><use href="#s" x="1315.3" y="1197.2"/><use href="#s" x="1213.3" y="1342.3"/><use href="#s" x="840.7" y="1545.4"/><use href="#s" x="934.5" y="1418.7"/><use href="#s" x="1429.5" y="1152.5"/><use href="#s" x="1143.1" y="1406.9"/><use href="#s" x="1142.3" y="1444.4"/><use href="#s" x="1249.6" y="1221.1"/><use href="#s" x="1162.9" y="1148.7"/><use href="#s" x="747.5" y="1622.8"/><use href="#s" x="1222.3" y="1143.0"/><use href="#s" x="1099.2" y="1332.1"/><use href="#s" x="908.4" y="1477.5"/><use href="#s" x="910.0" y="1476.0"/><use href="#s" x="1132.5" y="1299.9"/><use href="#s" x="1503.8" y="1113.7"/><use href="#s" x="994.0" y="1398.3"/><use href="#s" x="1136.1" y="1318.9"/><use href="#s" x="789.0" y="1599.0"/><use href="#s" x="1207.1" y="1141.2"/><use href="#s" x="935.8" y="1447.1"/><use href="#s" x="1044.7" y="1408.1"/><use href="#s" x="1169.4" y="1341.7"/><use href="#s" x="1370.9" y="1127.5"/><use href="#s" x="1352.9" y="1125.7"/><use href="#s" x="835.5" y="1536.5"/><use href="#s" x="1157.6" y="1228.2"/><use href="#s" x="862.7" y="1605.1"/><use href="#s" x="960.9" y="1412.9"/><use href="#s" x="921.7" y="1609.3"/><use href="#s" x="1341.6" y="1202.5"/><use href="#s" x="1185.6" y="1383.3"/><use href="#s" x="1006.8" y="1462.7"/><use href="#s" x="850.0" y="1634.7"/><use href="#s" x="1051.6" y="1381.8"/><use href="#s" x="1160.8" y="1344.1"/><use href="#s" x="1064.2" y="1589.9"/><use href="#s" x="1298.0" y="1246.4"/><use href="#s" x="1007.8" y="1448.3"/><use href="#s" x="1341.1" y="1161.3"/><use href="#s" x="954.0" y="1396.3"/><use href="#s" x="1329.7" y="1063.0"/><use href="#s" x="994.9" y="1521.1"/><use href="#s" x="987.4" y="1449.4"/><use href="#s" x="1077.5" y="1451.1"/><use href="#s" x="923.1" y="1432.4"/><use href="#s" x="1254.0" y="1154.5"/><use href="#s" x="1035.1" y="1569.9"/><use href="#s" x="1262.2" y="1149.3"/><use href="#s" x="1429.7" y="1134.7"/><use href="#s" x="1291.4" y="1175.6"/><use href="#s" x="792.9" y="1659.8"/><use href="#s" x="1210.4" y="1187.9"/><use href="#s" x="1367.8" y="1045.3"/><use href="#s" x="963.8" y="1420.1"/><use href="#s" x="1134.6" y="1298.9"/><use href="#s" x="1267.5" y="1289.2"/><use href="#s" x="1425.8" y="1032.4"/><use href="#s" x="1079.0" y="1364.3"/><use href="#s" x="773.2" y="1546.2"/><use href="#s" x="883.4" y="1610.5"/><use href="#s" x="862.4" y="1637.9"/><use href="#s" x="1090.5" y="1306.5"/><use href="#s" x="1586.0" y="1063.2"/><use href="#s" x="1078.0" y="1415.7"/><use href="#s" x="963.2" y="1587.5"/><use href="#s" x="999.8" y="1540.1"/><use href="#s" x="791.2" y="1667.4"/><use href="#s" x="1198.9" y="1359.6"/><use href="#s" x="1253.4" y="1244.5"/><use href="#s" x="954.4" y="1368.4"/><use href="#s" x="1383.8" y="1220.3"/><use href="#s" x="1067.4" y="1564.5"/><use href="#s" x="776.4" y="1517.8"/><use href="#s" x="1141.6" y="1234.3"/><use href="#s" x="854.5" y="1508.7"/><use href="#s" x="1207.5" y="1132.1"/><use href="#s" x="1033.5" y="1497.7"/><use href="#s" x="1021.1" y="1361.4"/><use href="#s" x="966.9" y="1373.4"/><use href="#s" x="1304.5" y="1214.8"/><use href="#s" x="1132.5" y="1271.1"/><use href="#s" x="940.3" y="1509.9"/><use href="#s" x="848.0" y="1483.5"/><use href="#s" x="782.0" y="1607.7"/><use href="#s" x="1022.6" y="1381.4"/><use href="#s" x="982.6" y="1485.1"/><use href="#s" x="749.4" y="1657.9"/><use href="#s" x="1036.7" y="1426.3"/><use href="#s" x="1168.6" y="1374.7"/><use href="#s" x="825.7" y="1521.9"/><use href="#s" x="1267.7" y="1200.4"/><use href="#s" x="976.2" y="1507.0"/><use href="#s" x="1336.2" y="1250.4"/><use href="#s" x="1407.8" y="1093.6"/><use href="#s" x="1356.8" y="1113.2"/><use href="#s" x="861.4" y="1565.4"/><use href="#s" x="1208.1" y="1199.1"/><use href="#s" x="961.3" y="1582.6"/><use href="#s" x="958.0" y="1564.3"/><use href="#s" x="1283.3" y="1282.8"/><use href="#s" x="1227.7" y="1237.1"/><use href="#s" x="1407.5" y="1102.7"/><use href="#s" x="1005.0" y="1505.2"/><use href="#s" x="1517.1" y="1055.7"/><use href="#s" x="1370.1" y="1040.0"/><use href="#s" x="1086.9" y="1369.5"/><use href="#s" x="1198.3" y="1217.6"/><use href="#s" x="1475.5" y="1045.8"/><use href="#s" x="1126.6" y="1242.3"/><use href="#s" x="1128.2" y="1295.9"/><use href="#s" x="921.2" y="1477.8"/><use href="#s" x="1508.3" y="1001.1"/><use href="#s" x="1079.1" y="1476.5"/><use href="#s" x="1003.1" y="1520.2"/><use href="#s" x="827.5" y="1596.4"/><use href="#s" x="1225.4" y="1273.1"/><use href="#s" x="1225.9" y="1198.3"/><use href="#s" x="914.5" y="1617.8"/><use href="#s" x="865.2" y="1502.3"/><use href="#s" x="1454.9" y="1173.7"/><use href="#s" x="1183.4" y="1315.5"/><use href="#s" x="1371.1" y="1238.5"/><use href="#s" x="1093.8" y="1349.8"/><use href="#s" x="1215.8" y="1335.5"/><use href="#s" x="1287.8" y="1253.3"/><use href="#s" x="1375.9" y="1218.8"/><use href="#s" x="997.3" y="1488.6"/><use href="#s" x="1247.8" y="1219.2"/><use href="#s" x="942.9" y="1492.2"/><use href="#s" x="894.3" y="1543.7"/><use href="#s" x="1160.9" y="1161.5"/><use href="#s" x="958.5" y="1555.0"/><use href="#s" x="1423.9" y="1130.1"/><use href="#s" x="1061.2" y="1413.2"/><use href="#s" x="1361.8" y="1192.6"/><use href="#s" x="796.6" y="1553.4"/><use href="#s" x="940.0" y="1518.1"/><use href="#s" x="999.3" y="1434.9"/><use href="#s" x="991.0" y="1514.9"/><use href="#s" x="976.5" y="1355.7"/><use href="#s" x="822.4" y="1650.3"/><use href="#s" x="1147.8" y="1318.3"/><use href="#s" x="1143.2" y="1344.7"/><use href="#s" x="1108.1" y="1349.7"/><use href="#s" x="1065.7" y="1409.3"/><use href="#s" x="1078.9" y="1505.3"/><use href="#s" x="1375.5" y="1209.6"/><use href="#s" x="1269.8" y="1036.2"/><use href="#s" x="957.8" y="1428.8"/><use href="#s" x="748.3" y="1570.5"/><use href="#s" x="1319.0" y="1127.6"/><use href="#s" x="1283.3" y="1283.1"/><use href="#s" x="1088.1" y="1491.0"/><use href="#s" x="1107.4" y="1385.1"/><use href="#s" x="920.2" y="1582.6"/><use href="#s" x="1148.3" y="1411.2"/><use href="#s" x="932.9" y="1547.8"/><use href="#s" x="896.4" y="1461.8"/><use href="#s" x="1095.9" y="1336.9"/><use href="#s" x="1166.6" y="1256.1"/><use href="#s" x="1431.9" y="1018.2"/><use href="#s" x="921.1" y="1558.8"/><use href="#s" x="1296.8" y="1285.9"/><use href="#s" x="944.5" y="1528.9"/><use href="#s" x="783.6" y="1686.8"/><use href="#s" x="992.2" y="1435.4"/><use href="#s" x="1307.8" y="1009.6"/><use href="#s" x="980.0" y="1442.2"/><use href="#s" x="1192.0" y="1126.2"/><use href="#s" x="1137.6" y="1260.0"/><use href="#s" x="1095.4" y="1514.7"/><use href="#s" x="796.2" y="1632.9"/><use href="#s" x="1139.5" y="1349.3"/><use href="#s" x="1268.6" y="1068.7"/><use href="#s" x="1198.2" y="1190.8"/><use href="#s" x="879.4" y="1632.8"/><use href="#s" x="1188.6" y="1302.9"/><use href="#s" x="1254.9" y="1176.8"/><use href="#s" x="1130.6" y="1478.4"/><use href="#s" x="1136.6" y="1420.9"/><use href="#s" x="826.6" y="1565.7"/><use href="#s" x="1273.9" y="1249.1"/><use href="#s" x="1174.7" y="1329.8"/><use href="#s" x="1119.5" y="1280.8"/><use href="#s" x="1195.6" y="1099.4"/><use href="#s" x="1466.6" y="1121.0"/><use href="#s" x="982.7" y="1385.4"/><use href="#s" x="1185.5" y="1368.0"/><use href="#s" x="1050.1" y="1402.0"/><use href="#s" x="1034.4" y="1348.6"/><use href="#s" x="964.8" y="1546.0"/><use href="#s" x="1426.0" y="1123.1"/><use href="#s" x="1118.0" y="1286.3"/><use href="#s" x="1221.5" y="1119.3"/><use href="#s" x="1022.6" y="1485.2"/><use href="#s" x="1481.3" y="1097.3"/><use href="#s" x="1222.3" y="1164.8"/><use href="#s" x="1407.0" y="1092.0"/><use href="#s" x="1092.9" y="1406.2"/><use href="#s" x="1367.6" y="1228.1"/><use href="#s" x="881.7" y="1453.1"/><use href="#s" x="1385.4" y="1077.4"/><use href="#s" x="1248.1" y="1070.6"/><use href="#s" x="1193.3" y="1366.7"/><use href="#s" x="1349.6" y="1204.6"/><use href="#s" x="1385.4" y="1201.3"/><use href="#s" x="1309.0" y="1092.4"/><use href="#s" x="1063.5" y="1505.9"/><use href="#s" x="825.5" y="1626.4"/><use href="#s" x="900.3" y="1496.9"/><use href="#s" x="910.2" y="1529.3"/><use href="#s" x="1274.7" y="1206.6"/><use href="#s" x="1158.0" y="1310.6"/><use href="#s" x="802.6" y="1510.0"/><use href="#s" x="1086.5" y="1303.2"/><use href="#s" x="1255.5" y="1156.1"/><use href="#s" x="1223.3" y="1239.3"/><use href="#s" x="1319.8" y="1014.7"/><use href="#s" x="1123.4" y="1307.1"/><use href="#s" x="1321.9" y="1178.7"/><use href="#s" x="1049.2" y="1372.1"/><use href="#s" x="1250.6" y="1204.7"/><use href="#s" x="1454.0" y="1086.5"/><use href="#s" x="1149.6" y="1238.0"/><use href="#s" x="1401.6" y="1091.5"/><use href="#s" x="1074.3" y="1521.6"/><use href="#s" x="1200.4" y="1169.2"/><use href="#s" x="1093.4" y="1368.9"/><use href="#s" x="859.6" y="1612.9"/><use href="#s" x="832.5" y="1577.4"/><use href="#s" x="1167.6" y="1279.2"/><use href="#s" x="1463.1" y="1129.7"/><use href="#s" x="1000.3" y="1587.3"/><use href="#s" x="1042.3" y="1422.4"/><use href="#s" x="1386.8" y="1125.9"/><use href="#s" x="1159.9" y="1234.2"/><use href="#s" x="1035.1" y="1339.5"/><use href="#s" x="901.7" y="1566.4"/><use href="#s" x="1227.4" y="1294.7"/><use href="#s" x="1339.0" y="1111.3"/><use href="#s" x="1023.2" y="1555.8"/><use href="#s" x="1099.2" y="1465.1"/><use href="#s" x="1181.4" y="1254.8"/><use href="#s" x="1288.8" y="1199.3"/><use href="#s" x="1276.8" y="1308.2"/><use href="#s" x="960.4" y="1420.2"/><use href="#s" x="997.2" y="1479.0"/><use href="#s" x="936.2" y="1424.7"/><use href="#s" x="1164.9" y="1289.7"/><use href="#s" x="1347.6" y="1255.4"/><use href="#s" x="797.3" y="1541.9"/><use href="#s" x="1387.2" y="1180.0"/><use href="#s" x="1357.4" y="1189.2"/><use href="#s" x="748.0" y="1680.5"/><use href="#s" x="1087.3" y="1432.0"/><use href="#s" x="986.9" y="1531.9"/><use href="#s" x="1197.4" y="1227.5"/><use href="#s" x="1006.8" y="1344.6"/><use href="#s" x="1099.8" y="1368.9"/><use href="#s" x="1232.7" y="1234.6"/><use href="#s" x="1061.5" y="1338.8"/><use href="#s" x="1185.1" y="1281.0"/><use href="#s" x="1062.9" y="1352.3"/><use href="#s" x="995.4" y="1511.1"/><use href="#s" x="1199.9" y="1155.4"/><use href="#s" x="1479.8" y="1171.6"/><use href="#s" x="1149.5" y="1318.4"/><use href="#s" x="1236.0" y="1275.4"/><use href="#s" x="1039.5" y="1312.3"/><use href="#s" x="924.1" y="1435.1"/><use href="#s" x="1173.4" y="1125.8"/><use href="#s" x="1247.7" y="1205.3"/><use href="#s" x="1188.2" y="1238.9"/><use href="#s" x="915.6" y="1402.7"/><use href="#s" x="1509.7" y="1067.7"/><use href="#s" x="1284.4" y="1035.3"/><use href="#s" x="1192.8" y="1208.2"/><use href="#s" x="1120.6" y="1397.1"/><use href="#s" x="1057.8" y="1470.3"/><use href="#s" x="793.8" y="1612.7"/><use href="#s" x="796.8" y="1608.4"/><use href="#s" x="1259.2" y="1119.1"/><use href="#s" x="979.1" y="1364.3"/><use href="#s" x="755.5" y="1685.1"/><use href="#s" x="1527.9" y="1007.8"/><use href="#s" x="895.5" y="1547.1"/><use href="#s" x="1226.7" y="1260.0"/><use href="#s" x="1135.2" y="1268.3"/><use href="#s" x="1149.1" y="1212.0"/><use href="#s" x="1310.9" y="1119.4"/><use href="#s" x="1413.0" y="1117.1"/><use href="#s" x="935.1" y="1537.4"/><use href="#s" x="1091.8" y="1487.5"/><use href="#s" x="954.8" y="1410.2"/><use href="#s" x="1451.9" y="1099.3"/><use href="#s" x="1045.9" y="1417.8"/><use href="#s" x="1131.9" y="1299.3"/><use href="#s" x="1185.7" y="1088.2"/><use href="#s" x="1318.1" y="1120.7"/><use href="#s" x="897.3" y="1514.2"/><use href="#s" x="1493.8" y="1042.7"/><use href="#s" x="1265.8" y="1287.1"/><use href="#s" x="837.5" y="1481.4"/><use href="#s" x="1240.2" y="1320.8"/><use href="#s" x="1537.7" y="1079.3"/><use href="#s" x="836.4" y="1524.1"/><use href="#s" x="1208.1" y="1184.5"/><use href="#s" x="1346.1" y="1167.4"/><use href="#s" x="937.6" y="1419.1"/><use href="#s" x="1003.1" y="1406.7"/><use href="#s" x="1393.9" y="1169.1"/><use href="#s" x="902.8" y="1468.6"/><use href="#s" x="851.4" y="1660.5"/><use href="#s" x="1384.9" y="1116.4"/><use href="#s" x="1153.9" y="1313.8"/><use href="#s" x="1128.8" y="1301.3"/><use href="#s" x="1167.4" y="1358.3"/><use href="#s" x="1198.2" y="1312.8"/><use href="#s" x="999.1" y="1484.6"/><use href="#s" x="984.9" y="1400.3"/><use href="#s" x="1025.1" y="1414.0"/><use href="#s" x="1226.8" y="1222.4"/><use href="#s" x="978.4" y="1484.7"/><use href="#s" x="888.5" y="1513.0"/><use href="#s" x="842.0" y="1640.7"/><use href="#s" x="819.1" y="1569.0"/><use href="#s" x="1041.0" y="1512.7"/><use href="#s" x="900.0" y="1489.3"/><use href="#s" x="822.9" y="1599.1"/><use href="#s" x="847.5" y="1585.6"/><use href="#s" x="1270.9" y="1215.0"/><use href="#s" x="835.1" y="1675.6"/><use href="#s" x="1114.3" y="1359.8"/><use href="#s" x="982.3" y="1464.3"/><use href="#s" x="1108.1" y="1446.9"/><use href="#s" x="956.7" y="1516.2"/><use href="#s" x="1086.8" y="1356.5"/><use href="#s" x="1233.0" y="1086.6"/><use href="#s" x="1087.4" y="1362.8"/><use href="#s" x="1210.5" y="1157.0"/><use href="#s" x="1161.2" y="1135.5"/><use href="#s" x="1148.6" y="1275.3"/><use href="#s" x="1279.5" y="1189.8"/><use href="#s" x="1168.2" y="1344.4"/><use href="#s" x="1048.7" y="1550.6"/><use href="#s" x="998.6" y="1399.0"/><use href="#s" x="1296.1" y="1272.5"/><use href="#s" x="1055.2" y="1381.4"/><use href="#s" x="913.0" y="1575.5"/><use href="#s" x="1323.8" y="1182.3"/><use href="#s" x="1096.2" y="1297.4"/><use href="#s" x="905.2" y="1544.4"/><use href="#s" x="811.3" y="1634.1"/><use href="#s" x="1004.0" y="1504.0"/><use href="#s" x="1432.0" y="1058.1"/><use href="#s" x="1303.2" y="1097.2"/><use href="#s" x="1004.5" y="1364.4"/><use href="#s" x="1012.7" y="1370.3"/><use href="#s" x="1145.2" y="1266.2"/><use href="#s" x="1000.7" y="1439.7"/><use href="#s" x="1310.6" y="1194.4"/><use href="#s" x="764.1" y="1566.9"/><use href="#s" x="1226.3" y="1177.9"/><use href="#s" x="1290.8" y="1169.5"/><use href="#s" x="1461.4" y="1120.3"/><use href="#s" x="973.8" y="1433.5"/><use href="#s" x="819.9" y="1602.2"/><use href="#s" x="1108.8" y="1353.2"/><use href="#s" x="1065.6" y="1286.7"/><use href="#s" x="1500.3" y="1012.4"/><use href="#s" x="1404.3" y="1092.8"/><use href="#s" x="1200.4" y="1043.2"/><use href="#s" x="1142.7" y="1229.5"/><use href="#s" x="1086.7" y="1325.8"/><use href="#s" x="1056.2" y="1374.1"/><use href="#s" x="1399.5" y="1203.4"/><use href="#s" x="1307.4" y="1065.6"/><use href="#s" x="1301.6" y="1206.3"/><use href="#s" x="933.2" y="1502.0"/><use href="#s" x="1381.5" y="1112.4"/><use href="#s" x="753.0" y="1679.3"/><use href="#s" x="1103.5" y="1344.7"/><use href="#s" x="1381.2" y="1104.2"/><use href="#s" x="1067.1" y="1455.4"/><use href="#s" x="932.7" y="1542.0"/><use href="#s" x="1155.7" y="1353.2"/><use href="#s" x="1290.5" y="1223.6"/><use href="#s" x="1022.5" y="1344.3"/><use href="#s" x="1225.0" y="1223.7"/><use href="#s" x="1465.7" y="1075.2"/><use href="#s" x="1382.3" y="1132.4"/><use href="#s" x="1307.3" y="1197.8"/><use href="#s" x="1118.3" y="1272.5"/><use href="#s" x="785.8" y="1594.7"/><use href="#s" x="1376.6" y="1159.9"/><use href="#s" x="1180.1" y="1352.0"/><use href="#s" x="758.9" y="1657.7"/><use href="#s" x="1030.3" y="1464.0"/><use href="#s" x="1004.5" y="1562.2"/><use href="#s" x="1073.4" y="1288.7"/><use href="#s" x="1064.6" y="1340.8"/><use href="#s" x="749.1" y="1604.0"/><use href="#s" x="937.1" y="1547.9"/><use href="#s" x="1157.4" y="1321.2"/><use href="#s" x="876.9" y="1608.2"/><use href="#s" x="1383.3" y="1130.0"/><use href="#s" x="1138.1" y="1407.7"/><use href="#s" x="1423.8" y="1145.4"/><use href="#s" x="1096.7" y="1351.1"/><use href="#s" x="1019.7" y="1400.6"/><use href="#s" x="1026.0" y="1522.2"/><use href="#s" x="906.4" y="1414.9"/><use href="#s" x="780.2" y="1626.8"/><use href="#s" x="1404.0" y="1201.5"/><use href="#s" x="1508.0" y="1106.1"/><use href="#s" x="1243.9" y="1325.7"/><use href="#s" x="982.0" y="1459.1"/><use href="#s" x="1317.5" y="1137.3"/><use href="#s" x="1081.5" y="1430.7"/><use href="#s" x="1166.0" y="1301.6"/><use href="#s" x="1351.6" y="1139.9"/><use href="#s" x="1198.2" y="1347.3"/><use href="#s" x="923.5" y="1610.4"/><use href="#s" x="1189.9" y="1233.3"/><use href="#s" x="1395.4" y="1159.1"/><use href="#s" x="839.0" y="1578.1"/><use href="#s" x="1149.0" y="1337.2"/><use href="#s" x="848.9" y="1584.7"/><use href="#s" x="973.5" y="1551.3"/><use href="#s" x="1004.8" y="1448.0"/><use href="#s" x="1097.1" y="1431.2"/><use href="#s" x="1115.4" y="1330.0"/><use href="#s" x="1277.7" y="1063.1"/><use href="#s" x="1375.5" y="1042.2"/><use href="#s" x="1060.7" y="1333.5"/><use href="#s" x="865.1" y="1615.1"/><use href="#s" x="819.4" y="1605.6"/><use href="#s" x="984.8" y="1473.7"/><use href="#s" x="1171.9" y="1278.6"/><use href="#s" x="1453.1" y="1163.4"/><use href="#s" x="1057.3" y="1421.2"/><use href="#s" x="942.0" y="1384.0"/><use href="#s" x="1173.4" y="1376.0"/><use href="#s" x="1076.1" y="1281.7"/><use href="#s" x="863.1" y="1578.6"/><use href="#s" x="1178.6" y="1139.1"/><use href="#s" x="1319.9" y="1073.6"/><use href="#s" x="869.6" y="1601.6"/><use href="#s" x="1190.1" y="1264.4"/><use href="#s" x="978.5" y="1540.6"/><use href="#s" x="1089.2" y="1282.2"/><use href="#s" x="1106.3" y="1386.5"/><use href="#s" x="1140.5" y="1395.1"/><use href="#s" x="1223.2" y="1348.4"/><use href="#s" x="759.7" y="1660.2"/><use href="#s" x="1053.2" y="1374.1"/><use href="#s" x="1266.3" y="1174.9"/><use href="#s" x="1013.7" y="1437.0"/><use href="#s" x="1079.9" y="1395.5"/><use href="#s" x="1110.9" y="1452.7"/><use href="#s" x="795.3" y="1664.3"/><use href="#s" x="1038.5" y="1324.7"/><use href="#s" x="1129.9" y="1464.4"/><use href="#s" x="989.0" y="1469.4"/><use href="#s" x="966.3" y="1434.7"/><use href="#s" x="1573.7" y="1090.3"/><use href="#s" x="802.8" y="1549.9"/><use href="#s" x="1275.1" y="1186.3"/><use href="#s" x="1530.8" y="1143.7"/><use href="#s" x="777.1" y="1642.7"/><use href="#s" x="1165.9" y="1326.7"/><use href="#s" x="796.5" y="1672.5"/><use href="#s" x="1460.0" y="1174.7"/><use href="#s" x="974.7" y="1394.4"/><use href="#s" x="1205.6" y="1124.5"/><use href="#s" x="1096.5" y="1269.3"/><use href="#s" x="931.5" y="1479.3"/><use href="#s" x="886.0" y="1588.0"/><use href="#s" x="1190.1" y="1201.5"/><use href="#s" x="1113.6" y="1461.9"/><use href="#s" x="1366.6" y="1228.6"/><use href="#s" x="1118.4" y="1298.7"/><use href="#s" x="1229.1" y="1303.9"/><use href="#s" x="1504.7" y="1135.7"/><use href="#s" x="940.7" y="1447.4"/><use href="#s" x="990.5" y="1424.2"/><use href="#s" x="1123.1" y="1284.5"/><use href="#s" x="818.5" y="1551.2"/><use href="#s" x="1377.1" y="1023.2"/><use href="#s" x="946.1" y="1499.8"/><use href="#s" x="1231.5" y="1008.5"/><use href="#s" x="970.8" y="1480.6"/><use href="#s" x="1365.8" y="1223.0"/><use href="#s" x="1121.9" y="1307.7"/><use href="#s" x="1261.9" y="1321.6"/><use href="#s" x="1511.0" y="1078.5"/><use href="#s" x="1247.6" y="1225.6"/><use href="#s" x="1179.1" y="1208.3"/><use href="#s" x="1279.2" y="1156.8"/><use href="#s" x="751.4" y="1641.0"/><use href="#s" x="863.4" y="1633.7"/><use href="#s" x="1293.5" y="1153.2"/><use href="#s" x="1271.9" y="1277.8"/><use href="#s" x="831.5" y="1666.7"/><use href="#s" x="755.2" y="1601.1"/><use href="#s" x="972.7" y="1450.5"/><use href="#s" x="1333.7" y="1138.4"/><use href="#s" x="1170.0" y="1303.5"/><use href="#s" x="1111.5" y="1287.4"/><use href="#s" x="1149.8" y="1280.9"/><use href="#s" x="1177.2" y="1324.6"/><use href="#s" x="1139.6" y="1274.1"/><use href="#s" x="875.1" y="1503.2"/><use href="#s" x="1014.1" y="1427.1"/><use href="#s" x="1053.5" y="1378.0"/><use href="#s" x="1307.7" y="1183.5"/><use href="#s" x="880.2" y="1527.8"/><use href="#s" x="1322.8" y="1027.9"/><use href="#s" x="1330.7" y="1160.5"/><use href="#s" x="1326.2" y="1227.3"/><use href="#s" x="1218.9" y="1124.6"/><use href="#s" x="841.5" y="1595.3"/><use href="#s" x="1094.9" y="1340.4"/><use href="#s" x="1110.5" y="1370.4"/><use href="#s" x="1126.6" y="1296.0"/><use href="#s" x="1298.5" y="1048.2"/><use href="#s" x="780.5" y="1600.6"/><use href="#s" x="1278.4" y="1100.1"/><use href="#s" x="1140.4" y="1398.1"/><use href="#s" x="907.6" y="1484.3"/><use href="#s" x="1038.8" y="1437.0"/><use href="#s" x="1128.8" y="1309.2"/><use href="#s" x="1032.2" y="1469.5"/><use href="#s" x="1336.5" y="1188.8"/><use href="#s" x="1038.3" y="1389.6"/><use href="#s" x="869.7" y="1561.5"/><use href="#s" x="1128.9" y="1406.5"/><use href="#s" x="1355.4" y="1195.1"/><use href="#s" x="1087.8" y="1283.2"/><use href="#s" x="901.6" y="1544.4"/><use href="#s" x="1333.5" y="1140.6"/><use href="#s" x="816.7" y="1536.5"/><use href="#s" x="1160.0" y="1241.7"/><use href="#s" x="1024.4" y="1331.6"/><use href="#s" x="1131.6" y="1320.1"/><use href="#s" x="1368.0" y="1093.8"/><use href="#s" x="1393.1" y="1137.4"/><use href="#s" x="1085.1" y="1505.3"/><use href="#s" x="1099.7" y="1535.2"/><use href="#s" x="962.2" y="1535.7"/><use href="#s" x="1203.1" y="1269.7"/><use href="#s" x="1434.7" y="1047.4"/><use href="#s" x="973.1" y="1529.3"/><use href="#s" x="956.3" y="1498.4"/><use href="#s" x="973.6" y="1467.3"/><use href="#s" x="1174.0" y="1286.8"/><use href="#s" x="822.1" y="1607.1"/><use href="#s" x="1126.5" y="1369.2"/><use href="#s" x="1073.0" y="1504.5"/><use href="#s" x="992.1" y="1392.1"/><use href="#s" x="1077.6" y="1347.5"/><use href="#s" x="1186.6" y="1296.5"/><use href="#s" x="910.7" y="1607.4"/><use href="#s" x="1101.5" y="1417.3"/><use href="#s" x="1221.1" y="1352.1"/><use href="#s" x="1018.3" y="1482.3"/><use href="#s" x="1432.2" y="1002.0"/><use href="#s" x="1039.1" y="1371.5"/><use href="#s" x="1183.9" y="1279.5"/><use href="#s" x="1136.3" y="1332.0"/><use href="#s" x="1030.3" y="1492.0"/><use href="#s" x="1113.5" y="1326.3"/><use href="#s" x="1326.0" y="1063.2"/><use href="#s" x="1165.4" y="1227.7"/><use href="#s" x="1057.6" y="1417.3"/><use href="#s" x="1042.1" y="1309.8"/><use href="#s" x="1384.9" y="1119.8"/><use href="#s" x="1068.1" y="1325.9"/><use href="#s" x="1029.6" y="1392.6"/><use href="#s" x="1037.6" y="1492.2"/><use href="#s" x="1266.5" y="1025.1"/><use href="#s" x="796.5" y="1563.0"/><use href="#s" x="980.9" y="1527.4"/><use href="#s" x="947.9" y="1571.5"/><use href="#s" x="1232.5" y="1181.2"/><use href="#s" x="968.1" y="1500.2"/><use href="#s" x="1182.1" y="1153.6"/><use href="#s" x="1038.5" y="1567.5"/><use href="#s" x="1269.7" y="1151.0"/><use href="#s" x="1316.8" y="1212.6"/><use href="#s" x="953.1" y="1385.0"/><use href="#s" x="1399.5" y="1024.8"/><use href="#s" x="990.3" y="1425.8"/><use href="#s" x="1256.4" y="1203.4"/><use href="#s" x="1009.1" y="1337.1"/><use href="#s" x="1243.5" y="1099.8"/><use href="#s" x="1181.1" y="1251.5"/><use href="#s" x="1296.5" y="1228.9"/><use href="#s" x="1274.0" y="1087.1"/><use href="#s" x="1245.5" y="1238.4"/><use href="#s" x="1200.6" y="1262.9"/><use href="#s" x="939.4" y="1530.8"/><use href="#s" x="1333.4" y="1197.7"/><use href="#s" x="1541.9" y="1077.6"/><use href="#s" x="1316.4" y="1266.1"/><use href="#s" x="1551.3" y="1062.1"/><use href="#s" x="1252.0" y="1248.7"/><use href="#s" x="1232.9" y="1222.3"/><use href="#s" x="857.4" y="1491.4"/><use href="#s" x="1174.1" y="1351.2"/><use href="#s" x="1147.0" y="1404.6"/><use href="#s" x="1205.7" y="1330.8"/><use href="#s" x="828.4" y="1545.7"/><use href="#s" x="1015.1" y="1566.0"/><use href="#s" x="1447.0" y="1103.3"/><use href="#s" x="1406.5" y="1078.2"/><use href="#s" x="1212.2" y="1241.5"/><use href="#s" x="1504.5" y="1162.4"/><use href="#s" x="751.7" y="1668.4"/><use href="#s" x="1094.5" y="1422.5"/><use href="#s" x="1244.6" y="1299.1"/><use href="#s" x="1461.3" y="1173.6"/><use href="#s" x="1507.0" y="1179.9"/><use href="#s" x="1525.8" y="1114.7"/><use href="#s" x="1155.1" y="1211.8"/><use href="#s" x="1002.8" y="1536.9"/><use href="#s" x="1057.0" y="1355.0"/><use href="#s" x="1164.3" y="1265.8"/><use href="#s" x="1085.6" y="1408.1"/><use href="#s" x="905.9" y="1484.2"/><use href="#s" x="995.6" y="1386.1"/><use href="#s" x="1184.1" y="1315.3"/><use href="#s" x="1124.3" y="1429.2"/><use href="#s" x="850.8" y="1643.6"/><use href="#s" x="1403.0" y="1116.3"/><use href="#s" x="803.9" y="1647.7"/><use href="#s" x="982.8" y="1357.4"/><use href="#s" x="1333.7" y="1187.2"/><use href="#s" x="883.9" y="1561.0"/><use href="#s" x="970.9" y="1549.9"/><use href="#s" x="954.7" y="1540.4"/><use href="#s" x="1378.0" y="1098.4"/><use href="#s" x="782.0" y="1619.4"/><use href="#s" x="1216.8" y="1104.0"/><use href="#s" x="1186.8" y="1280.6"/><use href="#s" x="1377.8" y="1027.9"/><use href="#s" x="988.9" y="1479.4"/><use href="#s" x="1060.4" y="1406.6"/><use href="#s" x="1199.2" y="1225.7"/><use href="#s" x="1204.5" y="1232.3"/><use href="#s" x="1216.1" y="1247.1"/><use href="#s" x="777.0" y="1535.8"/><use href="#s" x="785.3" y="1652.3"/><use href="#s" x="1271.2" y="1185.5"/><use href="#s" x="1339.3" y="1010.4"/><use href="#s" x="1000.9" y="1535.3"/><use href="#s" x="971.2" y="1443.2"/><use href="#s" x="1125.3" y="1313.7"/><use href="#s" x="1094.5" y="1358.4"/><use href="#s" x="1458.2" y="1137.7"/><use href="#s" x="1141.7" y="1362.2"/><use href="#s" x="1243.8" y="1295.5"/><use href="#s" x="1109.9" y="1361.6"/><use href="#s" x="993.4" y="1582.4"/><use href="#s" x="1276.7" y="1188.2"/><use href="#s" x="1143.0" y="1514.3"/><use href="#s" x="1092.1" y="1374.2"/><use href="#s" x="1098.4" y="1359.8"/><use href="#s" x="1256.1" y="1313.3"/><use href="#s" x="1346.7" y="1138.3"/><use href="#s" x="1168.4" y="1060.7"/><use href="#s" x="1193.5" y="1260.8"/><use href="#s" x="1263.8" y="1167.1"/><use href="#s" x="1283.2" y="1177.6"/><use href="#s" x="862.1" y="1579.1"/><use href="#s" x="799.2" y="1604.5"/><use href="#s" x="1160.1" y="1137.6"/><use href="#s" x="1003.3" y="1455.1"/><use href="#s" x="849.1" y="1497.0"/><use href="#s" x="1445.0" y="1096.7"/><use href="#s" x="1110.6" y="1304.5"/><use href="#s" x="1192.1" y="1278.8"/><use href="#s" x="839.9" y="1635.8"/><use href="#s" x="1370.4" y="1228.6"/><use href="#s" x="1217.1" y="1253.2"/><use href="#s" x="1092.5" y="1370.2"/><use href="#s" x="810.7" y="1664.5"/><use href="#s" x="1095.3" y="1332.1"/><use href="#s" x="1413.1" y="1107.6"/><use href="#s" x="1016.9" y="1493.3"/><use href="#s" x="1147.2" y="1340.2"/><use href="#s" x="1327.2" y="1193.3"/><use href="#s" x="1086.6" y="1487.1"/><use href="#s" x="1075.4" y="1485.4"/><use href="#s" x="905.8" y="1437.2"/><use href="#s" x="1044.2" y="1554.2"/><use href="#s" x="1185.0" y="1300.6"/><use href="#s" x="1392.5" y="1170.0"/><use href="#s" x="1372.1" y="1153.9"/><use href="#s" x="1333.3" y="1014.5"/><use href="#s" x="1281.4" y="1259.0"/><use href="#s" x="1041.4" y="1327.5"/><use href="#s" x="1150.9" y="1399.3"/><use href="#s" x="1269.2" y="1115.2"/><use href="#s" x="1149.3" y="1228.4"/><use href="#s" x="1141.1" y="1347.0"/><use href="#s" x="1497.8" y="1058.2"/><use href="#s" x="953.1" y="1489.1"/><use href="#s" x="992.4" y="1426.4"/><use href="#s" x="1465.1" y="1055.6"/><use href="#s" x="998.9" y="1403.4"/><use href="#s" x="1146.0" y="1332.5"/><use href="#s" x="1565.7" y="1122.5"/><use href="#s" x="1152.6" y="1203.5"/><use href="#s" x="1229.6" y="1195.7"/><use href="#s" x="1217.5" y="1235.4"/><use href="#s" x="1093.8" y="1321.8"/><use href="#s" x="947.8" y="1533.6"/><use href="#s" x="1255.3" y="1214.2"/><use href="#s" x="1204.3" y="1275.8"/><use href="#s" x="985.1" y="1491.7"/><use href="#s" x="1533.0" y="1011.7"/><use href="#s" x="1075.8" y="1499.5"/><use href="#s" x="1347.1" y="1051.6"/><use href="#s" x="1055.7" y="1427.6"/><use href="#s" x="1229.7" y="1245.1"/><use href="#s" x="1362.1" y="1000.0"/><use href="#s" x="1427.0" y="1102.2"/><use href="#s" x="776.7" y="1687.2"/><use href="#s" x="1194.5" y="1330.2"/><use href="#s" x="1352.6" y="1253.0"/><use href="#s" x="1290.4" y="1112.6"/><use href="#s" x="1439.7" y="1114.6"/><use href="#s" x="1217.6" y="1082.9"/><use href="#s" x="1128.8" y="1308.7"/><use href="#s" x="913.2" y="1523.2"/><use href="#s" x="1252.7" y="1175.5"/><use href="#s" x="1259.6" y="1172.5"/><use href="#s" x="845.0" y="1652.7"/><use href="#s" x="937.7" y="1477.4"/><use href="#s" x="1324.9" y="1212.0"/><use href="#s" x="1394.3" y="1202.1"/><use href="#s" x="1305.6" y="1110.0"/><use href="#s" x="1114.1" y="1311.5"/><use href="#s" x="1064.5" y="1363.5"/><use href="#s" x="931.5" y="1502.1"/><use href="#s" x="1068.7" y="1383.5"/><use href="#s" x="1282.9" y="1222.8"/><use href="#s" x="1299.2" y="1222.1"/><use href="#s" x="911.1" y="1458.5"/><use href="#s" x="1330.7" y="1151.4"/><use href="#s" x="1468.6" y="1055.2"/><use href="#s" x="1274.3" y="1103.5"/><use href="#s" x="1091.0" y="1382.8"/><use href="#s" x="1364.4" y="1115.1"/><use href="#s" x="943.9" y="1563.8"/><use href="#s" x="1147.5" y="1277.4"/><use href="#s" x="801.1" y="1695.9"/><use href="#s" x="1149.1" y="1345.6"/><use href="#s" x="871.6" y="1495.4"/><use href="#s" x="1161.3" y="1295.8"/><use href="#s" x="1221.7" y="1299.5"/><use href="#s" x="815.8" y="1608.3"/><use href="#s" x="851.6" y="1630.5"/><use href="#s" x="991.7" y="1459.0"/><use href="#s" x="886.1" y="1491.9"/><use href="#s" x="799.7" y="1511.9"/><use href="#s" x="1009.2" y="1558.7"/><use href="#s" x="1549.0" y="1095.1"/><use href="#s" x="1182.6" y="1278.3"/><use href="#s" x="871.0" y="1523.3"/><use href="#s" x="1459.3" y="1089.6"/><use href="#s" x="755.4" y="1629.6"/><use href="#s" x="1358.9" y="1092.3"/><use href="#s" x="995.1" y="1480.3"/><use href="#s" x="1036.5" y="1490.4"/><use href="#s" x="851.7" y="1636.0"/><use href="#s" x="923.8" y="1519.8"/><use href="#s" x="1343.3" y="1154.1"/><use href="#s" x="1104.2" y="1322.2"/><use href="#s" x="1226.7" y="1293.6"/><use href="#s" x="1220.9" y="1285.5"/><use href="#s" x="1322.2" y="1123.1"/><use href="#s" x="1235.4" y="1288.8"/><use href="#s" x="1232.1" y="1109.5"/><use href="#s" x="785.8" y="1642.1"/><use href="#s" x="1176.8" y="1390.2"/><use href="#s" x="979.9" y="1518.4"/><use href="#s" x="998.5" y="1389.9"/><use href="#s" x="1029.4" y="1451.6"/><use href="#s" x="1174.9" y="1349.2"/><use href="#s" x="1394.0" y="1174.5"/><use href="#s" x="1270.6" y="1161.9"/><use href="#s" x="991.7" y="1373.9"/><use href="#s" x="1298.8" y="1197.3"/><use href="#s" x="1319.7" y="1031.2"/><use href="#s" x="1158.4" y="1339.3"/><use href="#s" x="1108.5" y="1403.7"/><use href="#s" x="1130.3" y="1444.2"/><use href="#s" x="1292.6" y="1291.6"/><use href="#s" x="1015.0" y="1499.9"/><use href="#s" x="1376.4" y="1067.1"/><use href="#s" x="1247.6" y="1244.2"/><use href="#s" x="1155.3" y="1286.6"/><use href="#s" x="1205.7" y="1318.2"/><use href="#s" x="1036.1" y="1576.2"/><use href="#s" x="972.2" y="1575.0"/><use href="#s" x="1020.1" y="1538.6"/><use href="#s" x="960.8" y="1476.8"/><use href="#s" x="1307.1" y="1138.9"/><use href="#s" x="791.3" y="1563.1"/><use href="#s" x="1437.6" y="1050.0"/><use href="#s" x="826.6" y="1583.8"/><use href="#s" x="1173.2" y="1256.9"/><use href="#s" x="1288.6" y="1187.0"/><use href="#s" x="1258.8" y="1315.1"/><use href="#s" x="1344.8" y="1198.2"/><use href="#s" x="1144.9" y="1405.5"/><use href="#s" x="1015.5" y="1546.4"/><use href="#s" x="827.9" y="1525.7"/><use href="#s" x="1319.6" y="1190.1"/><use href="#s" x="795.9" y="1500.3"/><use href="#s" x="1129.9" y="1514.5"/><use href="#s" x="1488.5" y="1109.9"/><use href="#s" x="947.7" y="1440.7"/><use href="#s" x="988.1" y="1486.6"/><use href="#s" x="1287.2" y="1134.9"/><use href="#s" x="976.2" y="1417.2"/><use href="#s" x="1305.6" y="1079.8"/><use href="#s" x="1007.8" y="1501.5"/><use href="#s" x="1158.3" y="1070.4"/><use href="#s" x="834.9" y="1615.6"/><use href="#s" x="1194.7" y="1362.0"/><use href="#s" x="1058.7" y="1445.6"/><use href="#s" x="1003.5" y="1333.3"/><use href="#s" x="1468.7" y="1083.3"/><use href="#s" x="966.7" y="1550.3"/><use href="#s" x="1183.3" y="1349.6"/><use href="#s" x="1137.9" y="1408.7"/><use href="#s" x="1390.9" y="1203.5"/><use href="#s" x="1056.1" y="1409.4"/><use href="#s" x="1248.5" y="1293.1"/><use href="#s" x="1419.1" y="1139.1"/><use href="#s" x="1153.8" y="1345.1"/><use href="#s" x="1299.4" y="1101.5"/><use href="#s" x="977.7" y="1517.7"/><use href="#s" x="1119.4" y="1351.1"/><use href="#s" x="1333.4" y="1204.8"/><use href="#s" x="796.7" y="1619.8"/><use href="#s" x="1177.6" y="1291.1"/><use href="#s" x="792.2" y="1575.2"/><use href="#s" x="763.9" y="1598.9"/><use href="#s" x="1005.7" y="1498.7"/><use href="#s" x="1487.5" y="1087.0"/><use href="#s" x="1129.6" y="1452.3"/><use href="#s" x="885.4" y="1499.5"/><use href="#s" x="897.9" y="1440.7"/><use href="#s" x="1162.0" y="1329.8"/><use href="#s" x="752.3" y="1696.6"/><use href="#s" x="1423.3" y="1030.1"/><use href="#s" x="1034.9" y="1454.3"/><use href="#s" x="1075.7" y="1549.2"/><use href="#s" x="918.0" y="1582.2"/><use href="#s" x="1201.4" y="1207.7"/><use href="#s" x="1426.3" y="1190.8"/><use href="#s" x="1290.7" y="1213.3"/><use href="#s" x="906.9" y="1446.8"/><use href="#s" x="1089.0" y="1451.6"/><use href="#s" x="892.6" y="1512.4"/><use href="#s" x="1052.2" y="1491.5"/><use href="#s" x="858.1" y="1641.8"/><use href="#s" x="1122.1" y="1404.5"/><use href="#s" x="1284.4" y="1065.4"/><use href="#s" x="1145.4" y="1452.5"/><use href="#s" x="1020.3" y="1316.1"/><use href="#s" x="1238.5" y="1235.7"/><use href="#s" x="1190.0" y="1318.5"/><use href="#s" x="817.4" y="1509.8"/><use href="#s" x="792.5" y="1633.6"/><use href="#s" x="1164.6" y="1193.4"/><use href="#s" x="1259.0" y="1125.7"/><use href="#s" x="1122.1" y="1570.4"/><use href="#s" x="1287.1" y="1216.7"/><use href="#s" x="1170.2" y="1326.4"/><use href="#s" x="759.7" y="1681.0"/><use href="#s" x="1148.7" y="1092.4"/><use href="#s" x="1402.7" y="1056.6"/><use href="#s" x="1263.6" y="1271.9"/><use href="#s" x="1201.4" y="1327.3"/><use href="#s" x="1191.2" y="1295.6"/><use href="#s" x="1509.5" y="1102.3"/><use href="#s" x="1499.7" y="1125.4"/><use href="#s" x="1269.7" y="1081.0"/><use href="#s" x="1222.7" y="1145.9"/><use href="#s" x="1210.9" y="1345.8"/><use href="#s" x="1398.6" y="1189.3"/><use href="#s" x="1056.9" y="1375.9"/><use href="#s" x="1275.9" y="1192.3"/><use href="#s" x="1211.7" y="1100.2"/><use href="#s" x="937.1" y="1557.1"/><use href="#s" x="761.4" y="1692.5"/><use href="#s" x="1456.4" y="1117.9"/><use href="#s" x="1060.9" y="1419.9"/><use href="#s" x="977.4" y="1410.0"/><use href="#s" x="922.7" y="1480.4"/><use href="#s" x="1067.3" y="1440.0"/><use href="#s" x="1256.3" y="1255.8"/><use href="#s" x="1264.7" y="1232.4"/><use href="#s" x="971.9" y="1510.5"/><use href="#s" x="1020.7" y="1420.8"/><use href="#s" x="1185.9" y="1140.2"/><use href="#s" x="1083.1" y="1488.6"/><use href="#s" x="1188.2" y="1245.7"/><use href="#s" x="1531.5" y="1193.0"/><use href="#s" x="1262.3" y="1157.7"/><use href="#s" x="1065.8" y="1415.8"/><use href="#s" x="1141.6" y="1399.3"/><use href="#s" x="1241.0" y="1273.7"/><use href="#s" x="839.8" y="1670.8"/><use href="#s" x="916.8" y="1538.5"/><use href="#s" x="1308.1" y="1270.2"/><use href="#s" x="1253.3" y="1203.4"/><use href="#s" x="1047.5" y="1425.6"/><use href="#s" x="1263.1" y="1088.7"/><use href="#s" x="853.1" y="1536.0"/><use href="#s" x="1292.3" y="1243.6"/><use href="#s" x="1226.9" y="1327.1"/><use href="#s" x="1047.3" y="1371.5"/><use href="#s" x="1558.1" y="1097.3"/><use href="#s" x="1220.9" y="1272.9"/><use href="#s" x="982.4" y="1575.3"/><use href="#s" x="930.0" y="1474.6"/><use href="#s" x="1143.2" y="1310.2"/><use href="#s" x="1037.3" y="1485.7"/><use href="#s" x="1099.6" y="1348.6"/><use href="#s" x="1043.9" y="1412.5"/><use href="#s" x="992.1" y="1512.2"/><use href="#s" x="1119.8" y="1485.1"/><use href="#s" x="968.1" y="1444.8"/><use href="#s" x="1297.7" y="1254.4"/><use href="#s" x="972.6" y="1477.6"/><use href="#s" x="1318.3" y="1031.8"/><use href="#s" x="1436.1" y="1080.4"/><use href="#s" x="1303.9" y="1175.9"/><use href="#s" x="1131.6" y="1312.1"/><use href="#s" x="1212.4" y="1183.8"/><use href="#s" x="1318.3" y="1107.1"/><use href="#s" x="1225.6" y="1323.4"/><use href="#s" x="919.6" y="1506.0"/><use href="#s" x="1067.7" y="1558.7"/><use href="#s" x="1031.8" y="1498.8"/><use href="#s" x="1038.4" y="1445.2"/><use href="#s" x="1437.9" y="1096.5"/><use href="#s" x="1345.8" y="1088.5"/><use href="#s" x="912.0" y="1560.1"/><use href="#s" x="807.2" y="1677.9"/><use href="#s" x="1072.9" y="1343.3"/><use href="#s" x="1308.5" y="1094.3"/><use href="#s" x="1211.9" y="1303.3"/><use href="#s" x="939.0" y="1555.4"/><use href="#s" x="1561.3" y="1119.5"/><use href="#s" x="1423.3" y="1191.5"/><use href="#s" x="1412.0" y="1049.3"/><use href="#s" x="891.0" y="1571.1"/><use href="#s" x="1026.6" y="1545.0"/><use href="#s" x="1205.9" y="1094.4"/><use href="#s" x="808.2" y="1608.0"/><use href="#s" x="1184.2" y="1366.0"/><use href="#s" x="1507.0" y="1084.8"/><use href="#s" x="1152.8" y="1214.4"/><use href="#s" x="1327.6" y="1086.9"/><use href="#s" x="950.3" y="1519.0"/><use href="#s" x="1234.8" y="1163.1"/><use href="#s" x="826.1" y="1603.6"/><use href="#s" x="774.2" y="1566.7"/><use href="#s" x="1140.0" y="1275.8"/><use href="#s" x="1321.8" y="1129.7"/><use href="#s" x="1414.9" y="1128.1"/><use href="#s" x="983.0" y="1448.8"/><use href="#s" x="889.6" y="1556.8"/><use href="#s" x="941.7" y="1524.4"/><use href="#s" x="1130.1" y="1410.8"/><use href="#s" x="1375.7" y="1164.9"/><use href="#s" x="1164.4" y="1358.7"/><use href="#s" x="1014.0" y="1431.0"/><use href="#s" x="888.1" y="1567.1"/><use href="#s" x="874.6" y="1481.6"/><use href="#s" x="1402.7" y="1145.5"/><use href="#s" x="1198.0" y="1339.3"/><use href="#s" x="852.2" y="1527.3"/><use href="#s" x="1340.8" y="1242.4"/><use href="#s" x="1099.3" y="1376.5"/><use href="#s" x="1297.1" y="1130.4"/><use href="#s" x="1205.3" y="1294.4"/><use href="#s" x="1234.2" y="1137.6"/><use href="#s" x="1355.3" y="1070.9"/><use href="#s" x="1357.8" y="1035.4"/><use href="#s" x="1437.5" y="1146.5"/><use href="#s" x="898.6" y="1528.2"/><use href="#s" x="1186.4" y="1348.8"/><use href="#s" x="1126.7" y="1339.9"/><use href="#s" x="982.7" y="1410.7"/><use href="#s" x="1184.8" y="1259.4"/><use href="#s" x="1096.8" y="1479.6"/><use href="#s" x="828.9" y="1647.0"/><use href="#s" x="934.1" y="1409.8"/><use href="#s" x="1021.0" y="1508.1"/><use href="#s" x="1003.5" y="1419.6"/><use href="#s" x="988.9" y="1446.2"/><use href="#s" x="1246.4" y="1244.4"/><use href="#s" x="1147.7" y="1306.5"/><use href="#s" x="1097.7" y="1384.4"/><use href="#s" x="1000.5" y="1570.6"/><use href="#s" x="1098.3" y="1339.7"/><use href="#s" x="1055.3" y="1358.6"/><use href="#s" x="947.9" y="1464.1"/><use href="#s" x="1004.6" y="1360.6"/><use href="#s" x="939.4" y="1537.3"/><use href="#s" x="841.7" y="1497.0"/><use href="#s" x="1564.5" y="1038.3"/><use href="#s" x="955.8" y="1451.8"/><use href="#s" x="1132.5" y="1234.6"/><use href="#s" x="1194.4" y="1232.7"/><use href="#s" x="1059.7" y="1433.4"/><use href="#s" x="1446.2" y="1093.4"/><use href="#s" x="964.7" y="1503.1"/><use href="#s" x="1271.4" y="1096.7"/><use href="#s" x="1001.2" y="1367.2"/><use href="#s" x="1148.7" y="1202.2"/><use href="#s" x="1416.6" y="1063.0"/><use href="#s" x="1375.5" y="1122.6"/><use href="#s" x="1200.2" y="1023.9"/><use href="#s" x="1007.8" y="1574.3"/><use href="#s" x="828.5" y="1557.5"/><use href="#s" x="916.3" y="1485.2"/><use href="#s" x="1192.0" y="1200.4"/><use href="#s" x="1110.6" y="1427.2"/><use href="#s" x="841.1" y="1603.3"/><use href="#s" x="1546.8" y="1012.5"/><use href="#s" x="1573.3" y="1041.5"/><use href="#s" x="1113.0" y="1428.6"/><use href="#s" x="1093.1" y="1300.8"/><use href="#s" x="1201.9" y="1228.0"/><use href="#s" x="843.2" y="1652.5"/><use href="#s" x="868.5" y="1586.7"/><use href="#s" x="1135.9" y="1346.3"/><use href="#s" x="1091.4" y="1414.0"/><use href="#s" x="1231.0" y="1194.4"/><use href="#s" x="1005.5" y="1503.2"/><use href="#s" x="1123.2" y="1278.1"/><use href="#s" x="1145.7" y="1495.3"/><use href="#s" x="1169.7" y="1141.6"/><use href="#s" x="1313.5" y="1238.2"/><use href="#s" x="1023.1" y="1360.0"/><use href="#s" x="1082.2" y="1400.5"/><use href="#s" x="1250.3" y="1277.9"/><use href="#s" x="1044.7" y="1481.8"/><use href="#s" x="1094.5" y="1492.3"/><use href="#s" x="1222.3" y="1259.2"/><use href="#s" x="978.0" y="1437.5"/><use href="#s" x="894.3" y="1425.6"/><use href="#s" x="1136.3" y="1261.2"/><use href="#s" x="759.8" y="1675.6"/><use href="#s" x="1317.7" y="1237.1"/><use href="#s" x="1562.5" y="1068.6"/><use href="#s" x="1387.6" y="1026.2"/><use href="#s" x="1281.8" y="1260.2"/><use href="#s" x="777.4" y="1552.4"/><use href="#s" x="1396.6" y="1149.5"/><use href="#s" x="1012.9" y="1399.1"/><use href="#s" x="877.6" y="1542.2"/><use href="#s" x="1153.3" y="1378.8"/><use href="#s" x="1433.8" y="1195.6"/><use href="#s" x="1116.5" y="1350.4"/><use href="#s" x="917.3" y="1613.3"/><use href="#s" x="1368.4" y="1143.5"/><use href="#s" x="748.6" y="1678.7"/><use href="#s" x="928.1" y="1566.4"/><use href="#s" x="1206.9" y="1201.6"/><use href="#s" x="984.0" y="1589.4"/><use href="#s" x="1403.9" y="1060.4"/><use href="#s" x="1097.9" y="1410.5"/><use href="#s" x="1261.1" y="1297.5"/><use href="#s" x="1084.4" y="1397.9"/><use href="#s" x="1446.3" y="1180.9"/><use href="#s" x="1002.1" y="1527.1"/><use href="#s" x="1135.8" y="1327.5"/><use href="#s" x="1159.6" y="1328.7"/><use href="#s" x="1260.4" y="1231.5"/><use href="#s" x="1177.3" y="1343.4"/><use href="#s" x="1270.0" y="1169.5"/><use href="#s" x="1386.5" y="1213.2"/><use href="#s" x="1326.0" y="1232.5"/><use href="#s" x="1113.5" y="1469.1"/><use href="#s" x="972.9" y="1393.4"/><use href="#s" x="1122.1" y="1259.9"/><use href="#s" x="1209.8" y="1239.3"/><use href="#s" x="1057.1" y="1479.1"/><use href="#s" x="966.6" y="1533.3"/><use href="#s" x="1219.5" y="1286.7"/><use href="#s" x="1313.3" y="1153.2"/><use href="#s" x="1051.2" y="1292.2"/><use href="#s" x="913.6" y="1568.5"/><use href="#s" x="1002.8" y="1497.1"/><use href="#s" x="995.2" y="1343.8"/><use href="#s" x="1016.4" y="1462.2"/><use href="#s" x="1067.4" y="1418.3"/><use href="#s" x="1060.9" y="1414.4"/><use href="#s" x="1148.4" y="1091.1"/><use href="#s" x="952.3" y="1402.4"/><use href="#s" x="1189.7" y="1306.8"/><use href="#s" x="749.9" y="1634.6"/><use href="#s" x="1047.9" y="1356.7"/><use href="#s" x="963.4" y="1451.5"/><use href="#s" x="985.2" y="1425.2"/><use href="#s" x="841.6" y="1566.6"/><use href="#s" x="1368.6" y="1185.9"/><use href="#s" x="1119.3" y="1288.9"/><use href="#s" x="1266.0" y="1219.9"/><use href="#s" x="1392.0" y="1123.9"/><use href="#s" x="1075.3" y="1388.7"/><use href="#s" x="1032.1" y="1367.9"/><use href="#s" x="1422.4" y="1057.4"/><use href="#s" x="920.3" y="1447.8"/><use href="#s" x="1079.7" y="1559.8"/><use href="#s" x="954.9" y="1509.4"/><use href="#s" x="1026.0" y="1531.5"/><use href="#s" x="999.6" y="1566.9"/><use href="#s" x="1088.5" y="1449.3"/><use href="#s" x="1238.4" y="1174.4"/><use href="#s" x="1276.2" y="1288.3"/><use href="#s" x="1248.3" y="1178.4"/><use href="#s" x="804.8" y="1543.9"/><use href="#s" x="1205.2" y="1189.3"/><use href="#s" x="1098.4" y="1384.3"/><use href="#s" x="790.5" y="1565.8"/><use href="#s" x="1481.5" y="1121.2"/><use href="#s" x="1286.6" y="1267.5"/><use href="#s" x="1263.3" y="1130.1"/><use href="#s" x="940.1" y="1522.4"/><use href="#s" x="1027.1" y="1519.9"/><use href="#s" x="1124.4" y="1504.3"/><use href="#s" x="1197.0" y="1303.0"/><use href="#s" x="808.1" y="1669.6"/><use href="#s" x="768.9" y="1636.5"/><use href="#s" x="1360.1" y="1211.4"/><use href="#s" x="915.5" y="1487.8"/><use href="#s" x="1108.1" y="1317.4"/><use href="#s" x="1432.3" y="1065.9"/><use href="#s" x="977.2" y="1434.6"/><use href="#s" x="1100.3" y="1253.7"/><use href="#s" x="840.4" y="1511.3"/><use href="#s" x="1279.2" y="1150.4"/><use href="#s" x="897.6" y="1491.1"/><use href="#s" x="1267.4" y="1076.2"/><use href="#s" x="1334.0" y="1258.5"/><use href="#s" x="1139.5" y="1430.1"/><use href="#s" x="819.7" y="1660.2"/><use href="#s" x="1052.4" y="1409.8"/><use href="#s" x="1594.3" y="1113.4"/><use href="#s" x="1420.0" y="1108.6"/><use href="#s" x="849.0" y="1536.0"/><use href="#s" x="1133.6" y="1409.4"/><use href="#s" x="1520.6" y="1010.0"/><use href="#s" x="1076.8" y="1503.4"/><use href="#s" x="914.2" y="1448.0"/><use href="#s" x="1251.2" y="1307.9"/><use href="#s" x="1049.4" y="1396.9"/><use href="#s" x="1231.2" y="1268.7"/><use href="#s" x="1034.4" y="1455.1"/><use href="#s" x="1525.9" y="1077.0"/><use href="#s" x="842.6" y="1489.6"/><use href="#s" x="942.4" y="1448.3"/><use href="#s" x="1074.8" y="1468.6"/><use href="#s" x="1125.4" y="1318.7"/><use href="#s" x="1051.0" y="1314.4"/><use href="#s" x="1503.4" y="1115.3"/><use href="#s" x="1125.7" y="1435.1"/><use href="#s" x="904.6" y="1439.6"/><use href="#s" x="1416.8" y="1172.3"/><use href="#s" x="1228.8" y="1252.2"/><use href="#s" x="1147.9" y="1137.0"/><use href="#s" x="1169.6" y="1320.5"/><use href="#s" x="974.1" y="1395.2"/><use href="#s" x="1189.2" y="1321.2"/><use href="#s" x="957.7" y="1494.3"/><use href="#s" x="1525.8" y="1115.5"/><use href="#s" x="1210.9" y="1227.0"/><use href="#s" x="1485.9" y="1012.9"/><use href="#s" x="982.9" y="1488.2"/><use href="#s" x="1257.7" y="1314.7"/><use href="#s" x="1082.2" y="1412.3"/><use href="#s" x="835.3" y="1494.9"/><use href="#s" x="1347.8" y="1179.0"/><use href="#s" x="899.5" y="1546.6"/><use href="#s" x="1376.7" y="1021.2"/><use href="#s" x="979.9" y="1530.7"/><use href="#s" x="1100.6" y="1455.4"/><use href="#s" x="1510.5" y="1128.4"/><use href="#s" x="1050.5" y="1370.8"/><use href="#s" x="1148.1" y="1327.2"/><use href="#s" x="1160.2" y="1314.9"/><use href="#s" x="1413.7" y="1025.4"/><use href="#s" x="1053.2" y="1297.7"/><use href="#s" x="1099.2" y="1403.6"/><use href="#s" x="1174.4" y="1170.6"/><use href="#s" x="1329.1" y="1196.3"/><use href="#s" x="1397.7" y="1073.7"/><use href="#s" x="1270.5" y="1217.5"/><use href="#s" x="1169.5" y="1259.2"/><use href="#s" x="1233.7" y="1255.2"/><use href="#s" x="881.4" y="1564.0"/><use href="#s" x="975.4" y="1474.3"/><use href="#s" x="977.3" y="1388.1"/><use href="#s" x="1176.6" y="1323.0"/><use href="#s" x="1320.0" y="1162.2"/><use href="#s" x="914.0" y="1566.6"/><use href="#s" x="1402.4" y="1087.4"/><use href="#s" x="1121.9" y="1336.0"/><use href="#s" x="1238.1" y="1192.5"/><use href="#s" x="1144.0" y="1388.5"/><use href="#s" x="1112.7" y="1392.6"/><use href="#s" x="753.8" y="1636.2"/><use href="#s" x="780.7" y="1576.2"/><use href="#s" x="1106.3" y="1317.8"/><use href="#s" x="1057.0" y="1487.8"/><use href="#s" x="779.8" y="1655.5"/><use href="#s" x="1561.8" y="1135.8"/><use href="#s" x="1319.5" y="1152.6"/><use href="#s" x="993.1" y="1452.2"/><use href="#s" x="1243.8" y="1337.7"/><use href="#s" x="1275.7" y="1276.3"/><use href="#s" x="1181.1" y="1285.7"/><use href="#s" x="776.2" y="1622.2"/><use href="#s" x="1234.6" y="1323.0"/><use href="#s" x="924.4" y="1599.5"/><use href="#s" x="1121.3" y="1286.5"/><use href="#s" x="1195.5" y="1349.1"/><use href="#s" x="1425.1" y="1164.8"/><use href="#s" x="804.3" y="1525.0"/><use href="#s" x="1006.5" y="1343.9"/><use href="#s" x="992.4" y="1568.5"/><use href="#s" x="894.7" y="1564.6"/><use href="#s" x="1541.3" y="1027.3"/><use href="#s" x="1188.8" y="1346.9"/><use href="#s" x="1017.2" y="1484.0"/><use href="#s" x="1048.7" y="1468.3"/><use href="#s" x="1285.0" y="1231.4"/><use href="#s" x="1229.3" y="1291.5"/><use href="#s" x="1274.5" y="1268.8"/><use href="#s" x="1200.9" y="1236.3"/><use href="#s" x="1063.3" y="1424.5"/><use href="#s" x="1230.3" y="1252.6"/><use href="#s" x="1204.4" y="1289.7"/><use href="#s" x="874.3" y="1450.5"/><use href="#s" x="1026.0" y="1351.3"/><use href="#s" x="1283.0" y="1066.6"/><use href="#s" x="1282.5" y="1303.5"/><use href="#s" x="993.6" y="1547.6"/><use href="#s" x="1220.5" y="1239.2"/><use href="#s" x="1095.8" y="1442.2"/><use href="#s" x="997.3" y="1392.8"/><use href="#s" x="1286.4" y="1221.6"/><use href="#s" x="1011.1" y="1432.5"/><use href="#s" x="1389.4" y="1065.8"/><use href="#s" x="982.2" y="1472.5"/><use href="#s" x="1129.0" y="1429.0"/><use href="#s" x="1000.0" y="1509.0"/><use href="#s" x="997.3" y="1435.5"/><use href="#s" x="1174.9" y="1342.7"/><use href="#s" x="1161.0" y="1176.7"/><use href="#s" x="796.3" y="1694.8"/><use href="#s" x="1240.8" y="1255.2"/><use href="#s" x="1032.4" y="1459.4"/><use href="#s" x="1252.2" y="1247.9"/><use href="#s" x="897.9" y="1588.7"/><use href="#s" x="1181.2" y="1257.8"/><use href="#s" x="1478.3" y="1065.9"/><use href="#s" x="1451.1" y="1077.0"/><use href="#s" x="1096.8" y="1277.7"/><use href="#s" x="1392.9" y="1151.4"/><use href="#s" x="1579.3" y="1019.3"/><use href="#s" x="1348.3" y="1085.5"/><use href="#s" x="957.3" y="1401.0"/><use href="#s" x="918.4" y="1605.6"/><use href="#s" x="1034.8" y="1439.8"/><use href="#s" x="808.9" y="1568.6"/><use href="#s" x="1149.0" y="1250.3"/><use href="#s" x="1056.6" y="1490.4"/><use href="#s" x="997.3" y="1392.0"/><use href="#s" x="1230.9" y="1159.3"/><use href="#s" x="1033.5" y="1513.8"/><use href="#s" x="1450.6" y="1138.8"/><use href="#s" x="980.5" y="1398.4"/><use href="#s" x="1270.3" y="1202.3"/><use href="#s" x="1060.0" y="1370.3"/><use href="#s" x="1056.7" y="1290.1"/><use href="#s" x="986.2" y="1375.5"/><use href="#s" x="1138.6" y="1552.7"/><use href="#s" x="1181.9" y="1325.7"/><use href="#s" x="1071.4" y="1298.9"/><use href="#s" x="1260.5" y="1174.2"/><use href="#s" x="987.8" y="1421.1"/><use href="#s" x="895.5" y="1467.0"/><use href="#s" x="1437.3" y="1198.3"/><use href="#s" x="1445.8" y="1155.4"/><use href="#s" x="872.4" y="1545.0"/><use href="#s" x="928.9" y="1440.4"/><use href="#s" x="1222.1" y="1323.2"/><use href="#s" x="1064.3" y="1424.8"/><use href="#s" x="1056.1" y="1347.7"/><use href="#s" x="1276.6" y="1288.1"/><use href="#s" x="799.9" y="1583.1"/><use href="#s" x="960.5" y="1498.6"/><use href="#s" x="1197.5" y="1285.8"/><use href="#s" x="943.4" y="1585.6"/><use href="#s" x="1081.8" y="1395.7"/><use href="#s" x="1289.0" y="1185.8"/><use href="#s" x="1272.5" y="1252.7"/><use href="#s" x="1397.0" y="1106.5"/><use href="#s" x="1164.4" y="1349.8"/><use href="#s" x="1492.4" y="1042.4"/><use href="#s" x="986.2" y="1399.8"/><use href="#s" x="1040.7" y="1446.5"/><use href="#s" x="1003.6" y="1435.6"/><use href="#s" x="1291.1" y="1219.5"/><use href="#s" x="1016.7" y="1490.3"/><use href="#s" x="1020.1" y="1321.9"/><use href="#s" x="1402.3" y="1101.8"/><use href="#s" x="1412.1" y="1069.0"/><use href="#s" x="1303.3" y="1276.1"/><use href="#s" x="789.2" y="1566.3"/><use href="#s" x="1089.7" y="1475.4"/><use href="#s" x="1468.1" y="1092.3"/><use href="#s" x="855.3" y="1563.0"/><use href="#s" x="1376.5" y="1084.3"/><use href="#s" x="854.6" y="1491.4"/><use href="#s" x="896.3" y="1513.0"/><use href="#s" x="1114.1" y="1335.5"/><use href="#s" x="1248.3" y="1290.8"/><use href="#s" x="1279.8" y="1128.6"/><use href="#s" x="797.5" y="1583.7"/><use href="#s" x="1174.9" y="1312.5"/><use href="#s" x="1155.6" y="1302.8"/><use href="#s" x="1156.4" y="1245.0"/><use href="#s" x="884.3" y="1559.2"/><use href="#s" x="1029.4" y="1367.8"/><use href="#s" x="927.7" y="1603.3"/><use href="#s" x="838.4" y="1675.3"/><use href="#s" x="976.7" y="1506.5"/><use href="#s" x="1591.8" y="1081.5"/><use href="#s" x="851.0" y="1496.3"/><use href="#s" x="1030.5" y="1354.5"/><use href="#s" x="1468.8" y="1012.9"/><use href="#s" x="793.8" y="1550.0"/><use href="#s" x="1434.4" y="1115.7"/><use href="#s" x="1154.0" y="1156.4"/><use href="#s" x="1004.9" y="1454.0"/><use href="#s" x="921.8" y="1444.7"/><use href="#s" x="1435.9" y="1143.7"/><use href="#s" x="834.2" y="1580.1"/><use href="#s" x="840.6" y="1515.8"/><use href="#s" x="1230.9" y="1219.9"/><use href="#s" x="1147.5" y="1251.2"/><use href="#s" x="1284.6" y="1291.2"/><use href="#s" x="1241.5" y="1184.0"/><use href="#s" x="1219.2" y="1040.8"/><use href="#s" x="1032.4" y="1544.6"/><use href="#s" x="1175.9" y="1030.7"/><use href="#s" x="1400.6" y="1154.0"/><use href="#s" x="1252.9" y="1312.3"/><use href="#s" x="859.8" y="1510.4"/><use href="#s" x="1081.2" y="1317.9"/><use href="#s" x="856.2" y="1640.0"/><use href="#s" x="892.7" y="1443.9"/><use href="#s" x="1291.2" y="1208.1"/><use href="#s" x="1137.6" y="1304.4"/><use href="#s" x="1172.7" y="1293.3"/><use href="#s" x="1426.0" y="1130.3"/><use href="#s" x="1297.6" y="1085.7"/><use href="#s" x="974.4" y="1410.7"/><use href="#s" x="1153.3" y="1194.9"/><use href="#s" x="1289.3" y="1219.7"/><use href="#s" x="1258.2" y="1257.7"/><use href="#s" x="889.5" y="1523.8"/><use href="#s" x="1228.8" y="1122.0"/><use href="#s" x="1005.1" y="1543.6"/><use href="#s" x="815.9" y="1566.4"/><use href="#s" x="1327.0" y="1174.4"/><use href="#s" x="1048.3" y="1436.3"/><use href="#s" x="858.8" y="1602.6"/><use href="#s" x="1199.3" y="1312.3"/><use href="#s" x="1262.7" y="1273.8"/><use href="#s" x="1034.8" y="1428.6"/><use href="#s" x="993.1" y="1512.8"/><use href="#s" x="1230.6" y="1098.0"/><use href="#s" x="1192.3" y="1231.6"/><use href="#s" x="1237.8" y="1027.6"/><use href="#s" x="1008.9" y="1437.8"/><use href="#s" x="1446.1" y="1010.2"/><use href="#s" x="1518.3" y="1081.3"/><use href="#s" x="1271.2" y="1197.3"/><use href="#s" x="1509.2" y="1079.1"/><use href="#s" x="1460.2" y="1196.0"/><use href="#s" x="1020.6" y="1568.2"/><use href="#s" x="918.6" y="1584.9"/><use href="#s" x="1156.4" y="1354.5"/><use href="#s" x="1365.2" y="1201.1"/><use href="#s" x="1396.7" y="1024.7"/><use href="#s" x="1013.1" y="1343.9"/><use href="#s" x="1069.6" y="1464.8"/><use href="#s" x="982.7" y="1517.8"/><use href="#s" x="1217.0" y="1260.2"/><use href="#s" x="1471.4" y="1069.3"/><use href="#s" x="1048.1" y="1582.1"/><use href="#s" x="1103.0" y="1377.0"/><use href="#s" x="1262.5" y="1076.6"/><use href="#s" x="1167.9" y="1191.2"/><use href="#s" x="1443.1" y="1110.9"/><use href="#s" x="893.2" y="1632.8"/><use href="#s" x="1213.9" y="1234.0"/><use href="#s" x="934.4" y="1574.8"/><use href="#s" x="993.0" y="1448.1"/><use href="#s" x="965.4" y="1583.9"/><use href="#s" x="1041.9" y="1588.1"/><use href="#s" x="1299.2" y="1133.0"/><use href="#s" x="1350.7" y="1212.3"/><use href="#s" x="775.1" y="1692.8"/><use href="#s" x="1166.9" y="1315.0"/><use href="#s" x="963.1" y="1501.1"/><use href="#s" x="818.6" y="1640.2"/><use href="#s" x="883.0" y="1515.5"/><use href="#s" x="870.6" y="1617.7"/><use href="#s" x="1039.9" y="1522.5"/><use href="#s" x="994.1" y="1508.4"/><use href="#s" x="861.1" y="1592.3"/><use href="#s" x="1386.5" y="1168.1"/><use href="#s" x="966.7" y="1460.9"/><use href="#s" x="906.9" y="1507.4"/><use href="#s" x="1214.6" y="1267.1"/><use href="#s" x="999.3" y="1489.0"/><use href="#s" x="1299.7" y="1219.5"/><use href="#s" x="1342.1" y="1188.4"/><use href="#s" x="1056.8" y="1433.9"/><use href="#s" x="1026.2" y="1516.8"/><use href="#s" x="1140.5" y="1424.2"/><use href="#s" x="972.8" y="1513.1"/><use href="#s" x="1355.2" y="1041.2"/><use href="#s" x="1356.0" y="1054.2"/><use href="#s" x="1144.8" y="1288.7"/><use href="#s" x="1084.2" y="1345.6"/><use href="#s" x="1521.8" y="1009.0"/><use href="#s" x="1225.6" y="1285.5"/><use href="#s" x="1152.9" y="1189.9"/><use href="#s" x="838.7" y="1513.7"/><use href="#s" x="882.2" y="1435.1"/><use href="#s" x="890.0" y="1489.6"/><use href="#s" x="1327.1" y="1133.3"/><use href="#s" x="1158.0" y="1353.0"/><use href="#s" x="1275.9" y="1198.9"/><use href="#s" x="881.9" y="1603.2"/><use href="#s" x="1149.9" y="1186.7"/><use href="#s" x="1286.0" y="1058.5"/><use href="#s" x="931.1" y="1395.9"/><use href="#s" x="969.3" y="1450.8"/><use href="#s" x="1021.9" y="1508.8"/><use href="#s" x="1145.2" y="1350.7"/><use href="#s" x="1016.0" y="1535.6"/><use href="#s" x="973.0" y="1556.2"/><use href="#s" x="1111.2" y="1442.9"/><use href="#s" x="1195.4" y="1374.7"/><use href="#s" x="874.3" y="1465.0"/><use href="#s" x="879.9" y="1434.0"/><use href="#s" x="1278.9" y="1063.7"/><use href="#s" x="1185.5" y="1200.6"/><use href="#s" x="1024.5" y="1376.1"/><use href="#s" x="781.2" y="1627.9"/><use href="#s" x="1184.3" y="1299.3"/><use href="#s" x="1090.0" y="1366.9"/><use href="#s" x="1203.7" y="1169.8"/><use href="#s" x="1307.8" y="1271.8"/><use href="#s" x="1211.8" y="1242.6"/><use href="#s" x="1548.9" y="1037.3"/><use href="#s" x="1326.3" y="1234.7"/><use href="#s" x="1300.6" y="1128.3"/><use href="#s" x="1017.2" y="1353.6"/><use href="#s" x="1202.6" y="1066.3"/><use href="#s" x="1295.3" y="1287.4"/><use href="#s" x="1216.8" y="1022.8"/><use href="#s" x="1270.5" y="1125.8"/><use href="#s" x="1063.0" y="1560.0"/><use href="#s" x="984.7" y="1562.5"/><use href="#s" x="1146.0" y="1348.8"/><use href="#s" x="907.9" y="1529.5"/><use href="#s" x="1206.4" y="1232.8"/><use href="#s" x="1079.4" y="1459.9"/><use href="#s" x="1369.0" y="1139.9"/><use href="#s" x="819.2" y="1494.5"/><use href="#s" x="1484.5" y="1112.2"/><use href="#s" x="1233.1" y="1114.5"/><use href="#s" x="1175.4" y="1090.1"/><use href="#s" x="1158.9" y="1394.5"/><use href="#s" x="414.6" y="1648.1"/><use href="#s" x="463.3" y="1654.2"/><use href="#s" x="476.6" y="1633.3"/><use href="#s" x="513.0" y="1644.4"/><use href="#s" x="320.9" y="1740.3"/><use href="#s" x="349.9" y="1758.1"/><use href="#s" x="396.2" y="1753.6"/><use href="#s" x="456.4" y="1750.2"/><use href="#s" x="337.1" y="1785.1"/><use href="#s" x="377.0" y="1789.3"/><use href="#s" x="394.2" y="1787.1"/><use href="#s" x="380.2" y="1806.0"/><use href="#s" x="451.3" y="1777.0"/><use href="#s" x="454.5" y="1795.5"/><use href="#s" x="330.2" y="1854.0"/><use href="#s" x="305.1" y="1873.0"/><use href="#s" x="536.9" y="1685.5"/><use href="#s" x="538.1" y="1689.9"/><use href="#s" x="561.5" y="1685.5"/><use href="#s" x="567.6" y="1708.9"/><use href="#s" x="561.5" y="1716.7"/><use href="#s" x="616.4" y="1670.2"/><use href="#s" x="597.2" y="1723.6"/><use href="#s" x="616.4" y="1585.1"/><use href="#s" x="640.2" y="1582.6"/><use href="#s" x="645.1" y="1575.3"/><use href="#s" x="639.0" y="1605.5"/><use href="#s" x="651.3" y="1598.9"/><use href="#s" x="657.4" y="1597.4"/><use href="#s" x="619.3" y="1614.1"/><use href="#s" x="621.8" y="1625.2"/><use href="#s" x="606.5" y="1632.6"/><use href="#s" x="625.5" y="1645.4"/><use href="#s" x="647.6" y="1635.0"/><use href="#s" x="657.4" y="1635.0"/><use href="#s" x="662.4" y="1626.9"/><use href="#s" x="658.7" y="1652.3"/><use href="#s" x="677.9" y="1616.6"/><use href="#s" x="666.1" y="1567.4"/><use href="#s" x="715.3" y="1561.2"/><use href="#s" x="725.1" y="1561.2"/><use href="#s" x="720.2" y="1584.6"/><use href="#s" x="707.9" y="1606.7"/><use href="#s" x="714.0" y="1605.5"/><use href="#s" x="720.2" y="1606.7"/><use href="#s" x="730.0" y="1603.1"/><use href="#s" x="739.9" y="1578.5"/><use href="#s" x="689.4" y="1610.4"/><use href="#s" x="672.2" y="1642.4"/><use href="#s" x="677.0" y="1642.4"/><use href="#s" x="671.0" y="1665.8"/><use href="#s" x="677.0" y="1668.0"/><use href="#s" x="662.4" y="1729.8"/><use href="#s" x="643.9" y="1738.4"/><use href="#s" x="717.7" y="1708.9"/><use href="#s" x="731.3" y="1707.6"/><use href="#s" x="743.6" y="1703.9"/><use href="#s" x="687.0" y="1723.6"/><use href="#s" x="543.5" y="1519.3"/><use href="#s" x="610.2" y="1529.6"/><use href="#s" x="584.2" y="1554.8"/><use href="#s" x="642.1" y="1547.5"/><use href="#s" x="651.3" y="1535.5"/><use href="#s" x="660.0" y="1540.5"/><use href="#s" x="677.5" y="1513.2"/><use href="#s" x="683.4" y="1494.2"/><use href="#s" x="684.1" y="1555.4"/><use href="#s" x="696.1" y="1502.3"/><use href="#s" x="1100.0" y="1072.4"/><use href="#s" x="1101.7" y="1127.2"/><use href="#s" x="1125.1" y="1125.5"/><use href="#s" x="1139.4" y="1135.1"/><use href="#s" x="1055.0" y="1139.5"/><use href="#s" x="919.7" y="1167.3"/><use href="#s" x="1037.8" y="1168.3"/><use href="#s" x="1075.2" y="1166.6"/><use href="#s" x="1119.0" y="1151.8"/><use href="#s" x="1135.0" y="1161.7"/><use href="#s" x="1141.1" y="1176.4"/><use href="#s" x="1114.0" y="1183.8"/><use href="#s" x="1093.1" y="1190.0"/><use href="#s" x="1128.1" y="1191.2"/><use href="#s" x="1041.5" y="1196.1"/><use href="#s" x="1591.1" y="679.2"/><use href="#s" x="1500.1" y="723.5"/><use href="#s" x="1524.2" y="724.5"/><use href="#s" x="1572.2" y="722.3"/><use href="#s" x="1457.5" y="746.1"/><use href="#s" x="1561.1" y="745.4"/><use href="#s" x="1566.5" y="750.3"/><use href="#s" x="1587.4" y="741.2"/><use href="#s" x="1592.3" y="759.6"/><use href="#s" x="1596.0" y="762.0"/><use href="#s" x="1538.2" y="769.0"/><use href="#s" x="1549.3" y="772.5"/><use href="#s" x="1580.0" y="768.3"/><use href="#s" x="1510.4" y="777.4"/><use href="#s" x="1544.4" y="788.4"/><use href="#s" x="1521.0" y="794.1"/><use href="#s" x="1578.3" y="794.1"/><use href="#s" x="1488.5" y="796.6"/><use href="#s" x="1371.7" y="811.9"/><use href="#s" x="1488.2" y="797.2"/><use href="#s" x="1521.5" y="793.9"/><use href="#s" x="1544.5" y="790.0"/><use href="#s" x="1578.3" y="793.9"/><use href="#s" x="1519.3" y="809.2"/><use href="#s" x="1508.4" y="818.0"/><use href="#s" x="1477.3" y="825.0"/><use href="#s" x="1556.5" y="820.2"/><use href="#s" x="1570.3" y="823.2"/><use href="#s" x="1596.3" y="818.0"/><use href="#s" x="1565.2" y="835.9"/><use href="#s" x="1566.3" y="832.6"/><use href="#s" x="1522.6" y="834.8"/><use href="#s" x="1525.9" y="838.1"/><use href="#s" x="1500.1" y="845.1"/><use href="#s" x="1491.5" y="851.2"/><use href="#s" x="1493.1" y="849.0"/><use href="#s" x="1517.1" y="848.0"/><use href="#s" x="1518.2" y="854.5"/><use href="#s" x="1497.0" y="860.0"/><use href="#s" x="1498.5" y="865.5"/><use href="#s" x="1537.9" y="861.1"/><use href="#s" x="1555.4" y="862.2"/><use href="#s" x="1559.8" y="865.5"/><use href="#s" x="1596.9" y="843.6"/><use href="#s" x="1574.0" y="855.6"/><use href="#s" x="1581.6" y="855.6"/><use href="#s" x="1574.0" y="862.2"/><use href="#s" x="1583.8" y="862.2"/><use href="#s" x="1571.8" y="873.1"/><use href="#s" x="1589.3" y="873.1"/><use href="#s" x="1595.8" y="870.9"/><use href="#s" x="1413.2" y="867.0"/><use href="#s" x="1371.7" y="881.9"/><use href="#s" x="1376.7" y="886.2"/><use href="#s" x="1476.2" y="879.2"/><use href="#s" x="1498.5" y="874.2"/><use href="#s" x="1497.9" y="881.9"/><use href="#s" x="1515.4" y="877.5"/><use href="#s" x="1488.2" y="887.3"/><use href="#s" x="1456.3" y="889.5"/><use href="#s" x="1534.6" y="887.3"/><use href="#s" x="1541.2" y="887.3"/><use href="#s" x="1532.4" y="891.7"/><use href="#s" x="1575.1" y="888.4"/><use href="#s" x="1580.5" y="891.7"/><use href="#s" x="1436.2" y="901.5"/><use href="#s" x="1411.0" y="909.2"/><use href="#s" x="1391.4" y="915.1"/><use href="#s" x="1446.5" y="921.2"/><use href="#s" x="1369.5" y="921.2"/><use href="#s" x="1399.5" y="923.8"/><use href="#s" x="1397.9" y="930.0"/><use href="#s" x="1414.3" y="922.3"/><use href="#s" x="1479.3" y="920.1"/><use href="#s" x="1476.2" y="932.2"/><use href="#s" x="1369.1" y="936.1"/><use href="#s" x="1423.1" y="937.2"/><use href="#s" x="1484.3" y="940.5"/><use href="#s" x="1430.1" y="949.2"/><use href="#s" x="1267.4" y="925.6"/><use href="#s" x="1294.5" y="923.4"/><use href="#s" x="1349.4" y="957.3"/><use href="#s" x="1365.6" y="954.0"/><use href="#s" x="1305.0" y="960.1"/><use href="#s" x="1283.1" y="965.0"/><use href="#s" x="1315.3" y="972.0"/><use href="#s" x="1422.0" y="961.2"/><use href="#s" x="1511.6" y="923.0"/><use href="#s" x="1516.0" y="935.4"/><use href="#s" x="1526.5" y="935.4"/><use href="#s" x="1519.3" y="943.1"/><use href="#s" x="1510.6" y="947.5"/><use href="#s" x="1555.4" y="905.9"/><use href="#s" x="1563.0" y="909.8"/><use href="#s" x="1517.1" y="908.8"/><use href="#s" x="1522.6" y="908.8"/><use href="#s" x="1528.0" y="908.8"/><use href="#s" x="1580.5" y="915.8"/><use href="#s" x="1584.9" y="923.4"/><use href="#s" x="1593.7" y="925.6"/><use href="#s" x="1590.4" y="938.7"/><use href="#s" x="1561.9" y="951.4"/><use href="#s" x="1587.1" y="951.4"/><use href="#s" x="1541.2" y="961.0"/><use href="#s" x="1557.6" y="973.3"/><use href="#s" x="1550.6" y="988.1"/><use href="#s" x="1524.8" y="982.9"/><use href="#s" x="1462.4" y="958.4"/><use href="#s" x="1463.5" y="965.0"/><use href="#s" x="1454.8" y="975.5"/><use href="#s" x="1446.0" y="981.4"/><use href="#s" x="1477.3" y="972.0"/><use href="#s" x="1490.9" y="952.9"/><use href="#s" x="1366.2" y="977.0"/><use href="#s" x="1357.0" y="985.1"/><use href="#s" x="1413.2" y="978.1"/><use href="#s" x="1266.7" y="987.5"/><use href="#s" x="1228.4" y="996.0"/><use href="#s" x="1328.4" y="994.5"/><use href="#s" x="1367.3" y="995.1"/><use href="#s" x="1383.7" y="995.6"/><use href="#s" x="1401.2" y="992.3"/><use href="#s" x="1421.3" y="990.8"/><use href="#s" x="1438.4" y="989.0"/><use href="#s" x="1436.2" y="993.4"/><use href="#s" x="1450.4" y="991.2"/><use href="#s" x="1462.4" y="993.4"/><use href="#s" x="1477.7" y="990.1"/><use href="#s" x="1521.5" y="994.5"/><use href="#s" x="1499.6" y="996.7"/><use href="#s" x="1528.0" y="997.8"/><use href="#s" x="1544.5" y="997.8"/><use href="#s" x="1558.7" y="992.3"/><use href="#s" x="1571.8" y="986.8"/><use href="#s" x="1584.9" y="980.3"/><use href="#s" x="1593.7" y="969.3"/><use href="#s" x="806.5" y="1278.4"/><use href="#s" x="874.5" y="1331.2"/><use href="#s" x="808.1" y="1355.5"/><use href="#s" x="833.5" y="1353.5"/><use href="#s" x="766.3" y="1368.3"/><use href="#s" x="763.3" y="1377.3"/><use href="#s" x="827.3" y="1370.3"/><use href="#s" x="842.1" y="1379.3"/><use href="#s" x="897.5" y="1370.3"/><use href="#s" x="888.5" y="1373.5"/><use href="#s" x="825.1" y="1395.0"/><use href="#s" x="817.3" y="1403.5"/><use href="#s" x="847.4" y="1407.1"/><use href="#s" x="760.1" y="1419.1"/><use href="#s" x="762.0" y="1423.3"/><use href="#s" x="762.6" y="1425.1"/><use href="#s" x="778.2" y="1421.5"/><use href="#s" x="778.8" y="1424.5"/><use href="#s" x="864.2" y="1420.9"/><use href="#s" x="858.2" y="1429.3"/><use href="#s" x="901.5" y="1403.5"/><use href="#s" x="901.5" y="1408.9"/><use href="#s" x="884.6" y="1416.7"/><use href="#s" x="881.0" y="1418.5"/><use href="#s" x="832.9" y="1441.9"/><use href="#s" x="720.5" y="1459.4"/><use href="#s" x="755.3" y="1459.4"/><use href="#s" x="819.1" y="1457.0"/><use href="#s" x="826.9" y="1455.8"/><use href="#s" x="827.5" y="1463.0"/><use href="#s" x="800.4" y="1467.8"/><use href="#s" x="805.9" y="1469.0"/><use href="#s" x="792.0" y="1470.8"/><use href="#s" x="766.2" y="1476.2"/><use href="#s" x="816.1" y="1475.0"/><use href="#s" x="705.4" y="1482.2"/><use href="#s" x="779.4" y="1485.9"/><use href="#s" x="793.2" y="1479.8"/><use href="#s" x="796.8" y="1483.4"/><use href="#s" x="800.4" y="1485.9"/><use href="#s" x="788.4" y="1477.4"/><use href="#s" x="732.5" y="1492.5"/><use href="#s" x="768.6" y="1492.5"/><use href="#s" x="794.4" y="1490.7"/><use href="#s" x="699.4" y="1502.1"/><use href="#s" x="753.5" y="1502.1"/><use href="#s" x="722.3" y="1549.0"/><use href="#s" x="1041.5" y="1198.2"/><use href="#s" x="1056.5" y="1206.4"/><use href="#s" x="1093.4" y="1191.4"/><use href="#s" x="1092.7" y="1202.3"/><use href="#s" x="1129.0" y="1192.1"/><use href="#s" x="1145.4" y="1204.4"/><use href="#s" x="1133.1" y="1208.5"/><use href="#s" x="1113.2" y="1212.6"/><use href="#s" x="1125.5" y="1210.5"/><use href="#s" x="1126.2" y="1216.7"/><use href="#s" x="1093.4" y="1216.7"/><use href="#s" x="1097.5" y="1214.6"/><use href="#s" x="1100.2" y="1219.4"/><use href="#s" x="1021.7" y="1214.6"/><use href="#s" x="1025.8" y="1213.9"/><use href="#s" x="1051.0" y="1220.1"/><use href="#s" x="1041.5" y="1230.3"/><use href="#s" x="984.7" y="1237.2"/><use href="#s" x="1047.6" y="1239.2"/><use href="#s" x="1065.4" y="1235.1"/><use href="#s" x="1068.1" y="1238.5"/><use href="#s" x="1053.1" y="1246.0"/><use href="#s" x="1058.6" y="1244.0"/><use href="#s" x="1065.4" y="1247.4"/><use href="#s" x="1096.8" y="1248.1"/><use href="#s" x="1045.6" y="1256.3"/><use href="#s" x="1062.7" y="1261.1"/><use href="#s" x="1069.5" y="1259.0"/><use href="#s" x="1066.1" y="1270.0"/><use href="#s" x="1038.1" y="1270.6"/><use href="#s" x="1033.3" y="1276.1"/><use href="#s" x="1057.9" y="1277.5"/><use href="#s" x="1035.3" y="1284.3"/><use href="#s" x="1018.9" y="1287.0"/><use href="#s" x="1023.0" y="1292.5"/><use href="#s" x="906.2" y="1273.4"/><use href="#s" x="960.1" y="1287.7"/><use href="#s" x="951.9" y="1293.9"/><use href="#s" x="992.9" y="1298.0"/><use href="#s" x="994.3" y="1302.1"/><use href="#s" x="1003.9" y="1313.0"/><use href="#s" x="1012.8" y="1311.7"/><use href="#s" x="969.0" y="1311.7"/><use href="#s" x="905.5" y="1323.3"/><use href="#s" x="934.9" y="1323.3"/><use href="#s" x="941.0" y="1324.6"/><use href="#s" x="950.6" y="1323.3"/><use href="#s" x="951.9" y="1332.2"/><use href="#s" x="960.1" y="1336.3"/><use href="#s" x="1005.2" y="1323.3"/><use href="#s" x="976.5" y="1327.4"/><use href="#s" x="990.2" y="1330.8"/><use href="#s" x="912.3" y="1340.4"/><use href="#s" x="902.1" y="1360.9"/><use href="#s" x="2045.4" y="339.3"/><use href="#s" x="1891.2" y="427.2"/><use href="#s" x="1848.3" y="480.4"/><use href="#s" x="1871.4" y="505.6"/><use href="#s" x="1892.5" y="506.3"/><use href="#s" x="1946.0" y="514.6"/><use href="#s" x="2042.8" y="500.4"/><use href="#s" x="2039.0" y="547.5"/><use href="#s" x="1844.2" y="536.4"/><use href="#s" x="1865.0" y="541.6"/><use href="#s" x="1879.2" y="543.6"/><use href="#s" x="1818.5" y="552.6"/><use href="#s" x="1811.6" y="558.3"/><use href="#s" x="1858.3" y="566.5"/><use href="#s" x="1646.6" y="552.3"/><use href="#s" x="1670.2" y="566.7"/><use href="#s" x="1818.5" y="604.5"/><use href="#s" x="1956.2" y="595.5"/><use href="#s" x="1857.3" y="620.7"/><use href="#s" x="1878.4" y="621.2"/><use href="#s" x="1885.3" y="622.0"/><use href="#s" x="1915.1" y="615.6"/><use href="#s" x="2019.2" y="618.6"/><use href="#s" x="1897.1" y="640.5"/><use href="#s" x="1915.1" y="641.3"/><use href="#s" x="1934.4" y="638.4"/><use href="#s" x="1922.8" y="647.7"/><use href="#s" x="1932.9" y="652.0"/><use href="#s" x="1932.3" y="663.1"/><use href="#s" x="1952.4" y="659.2"/><use href="#s" x="1883.0" y="664.9"/><use href="#s" x="1865.0" y="667.5"/><use href="#s" x="1834.2" y="656.4"/><use href="#s" x="1825.7" y="664.9"/><use href="#s" x="1861.2" y="693.9"/><use href="#s" x="1989.7" y="681.6"/><use href="#s" x="1899.7" y="706.0"/><use href="#s" x="1907.4" y="713.7"/><use href="#s" x="1912.6" y="729.7"/><use href="#s" x="1985.0" y="728.6"/><use href="#s" x="1741.4" y="623.0"/><use href="#s" x="1768.4" y="627.1"/><use href="#s" x="1673.3" y="641.8"/><use href="#s" x="1676.0" y="641.0"/><use href="#s" x="1691.3" y="656.4"/><use href="#s" x="1743.0" y="650.3"/><use href="#s" x="1761.0" y="650.8"/><use href="#s" x="1764.0" y="651.0"/><use href="#s" x="1767.1" y="657.2"/><use href="#s" x="1787.2" y="655.9"/><use href="#s" x="1743.0" y="668.8"/><use href="#s" x="1755.8" y="669.3"/><use href="#s" x="1760.7" y="666.2"/><use href="#s" x="1730.6" y="676.5"/><use href="#s" x="1727.5" y="682.9"/><use href="#s" x="1736.3" y="682.9"/><use href="#s" x="1751.2" y="686.7"/><use href="#s" x="1786.6" y="693.2"/><use href="#s" x="1821.3" y="708.6"/><use href="#s" x="1832.1" y="708.6"/><use href="#s" x="1830.8" y="720.7"/><use href="#s" x="1821.9" y="736.1"/><use href="#s" x="1833.4" y="735.1"/><use href="#s" x="1768.7" y="719.6"/><use href="#s" x="1759.4" y="727.3"/><use href="#s" x="1756.3" y="735.0"/><use href="#s" x="1736.3" y="723.2"/><use href="#s" x="1799.5" y="729.7"/><use href="#s" x="1793.6" y="743.3"/><use href="#s" x="1704.9" y="744.6"/><use href="#s" x="1617.6" y="720.7"/><use href="#s" x="1640.7" y="743.3"/><use href="#s" x="1680.5" y="708.1"/><use href="#s" x="1688.2" y="704.7"/><use href="#s" x="1682.6" y="722.7"/><use href="#s" x="1706.2" y="720.7"/><use href="#s" x="1710.1" y="718.9"/><use href="#s" x="1644.5" y="757.7"/><use href="#s" x="1663.8" y="760.3"/><use href="#s" x="1670.0" y="763.0"/><use href="#s" x="1606.8" y="771.1"/><use href="#s" x="1631.2" y="775.7"/><use href="#s" x="1652.2" y="778.3"/><use href="#s" x="1658.7" y="784.7"/><use href="#s" x="1648.0" y="783.0"/><use href="#s" x="1636.8" y="798.8"/><use href="#s" x="1603.4" y="804.0"/><use href="#s" x="1606.0" y="814.0"/><use href="#s" x="1609.8" y="820.7"/><use href="#s" x="1598.0" y="842.0"/><use href="#s" x="1635.5" y="838.7"/><use href="#s" x="1657.4" y="829.7"/><use href="#s" x="1684.4" y="834.8"/><use href="#s" x="1687.0" y="778.3"/><use href="#s" x="1696.0" y="774.4"/><use href="#s" x="1706.2" y="780.3"/><use href="#s" x="1713.9" y="765.4"/><use href="#s" x="1689.5" y="795.0"/><use href="#s" x="1730.6" y="807.8"/><use href="#s" x="1743.5" y="806.5"/><use href="#s" x="1765.3" y="768.0"/><use href="#s" x="1773.0" y="772.6"/><use href="#s" x="1802.6" y="768.0"/><use href="#s" x="1815.4" y="772.6"/><use href="#s" x="1832.1" y="771.8"/><use href="#s" x="1773.0" y="792.4"/><use href="#s" x="1780.7" y="796.3"/><use href="#s" x="1785.9" y="801.4"/><use href="#s" x="1764.0" y="813.0"/><use href="#s" x="1763.0" y="821.0"/><use href="#s" x="1900.2" y="765.4"/><use href="#s" x="1915.6" y="813.0"/><use href="#s" x="1841.1" y="805.2"/><use href="#s" x="1815.4" y="820.7"/><use href="#s" x="1773.0" y="846.4"/><use href="#s" x="1739.6" y="848.9"/><use href="#s" x="1724.2" y="857.9"/><use href="#s" x="1752.5" y="865.6"/><use href="#s" x="1766.6" y="863.1"/><use href="#s" x="1819.3" y="848.9"/><use href="#s" x="1837.3" y="866.9"/><use href="#s" x="1838.6" y="880.5"/><use href="#s" x="1607.3" y="869.5"/><use href="#s" x="1627.8" y="875.9"/><use href="#s" x="1642.0" y="872.1"/><use href="#s" x="1654.8" y="874.6"/><use href="#s" x="1693.4" y="878.5"/><use href="#s" x="1686.9" y="883.6"/><use href="#s" x="1666.4" y="887.5"/><use href="#s" x="1647.1" y="893.9"/><use href="#s" x="1602.1" y="901.6"/><use href="#s" x="1622.7" y="906.8"/><use href="#s" x="1630.4" y="905.5"/><use href="#s" x="1638.1" y="906.8"/><use href="#s" x="1647.1" y="914.5"/><use href="#s" x="1712.6" y="901.6"/><use href="#s" x="1703.6" y="905.5"/><use href="#s" x="1766.6" y="905.5"/><use href="#s" x="1784.6" y="891.3"/><use href="#s" x="1827.0" y="916.5"/><use href="#s" x="1873.2" y="915.7"/><use href="#s" x="1615.0" y="938.9"/><use href="#s" x="1600.9" y="932.5"/><use href="#s" x="1699.8" y="933.7"/><use href="#s" x="1747.3" y="949.2"/><use href="#s" x="1776.9" y="945.3"/><use href="#s" x="1636.8" y="985.1"/><use href="#s" x="1636.8" y="996.7"/><use href="#s" x="1621.4" y="999.3"/><use href="#s" x="1626.6" y="1007.0"/><use href="#s" x="1683.1" y="1013.4"/><use href="#s" x="1676.7" y="1018.5"/><use href="#s" x="1730.6" y="1014.7"/><use href="#s" x="1600.9" y="1032.7"/><use href="#s" x="1622.7" y="1041.7"/><use href="#s" x="1615.0" y="1049.4"/><use href="#s" x="1600.9" y="1055.8"/><use href="#s" x="1683.1" y="1037.8"/><use href="#s" x="1737.0" y="1045.5"/><use href="#s" x="1744.8" y="1086.6"/><use href="#s" x="1699.8" y="1093.1"/><use href="#s" x="1674.1" y="1109.8"/><use href="#s" x="1707.5" y="1150.9"/><use href="#s" x="1613.7" y="1177.9"/><use href="#s" x="1614.5" y="1178.3"/><use href="#s" x="1759.4" y="1211.7"/><use href="#s" x="1708.3" y="1151.3"/><use href="#s" x="1009.5" y="1594.4"/><use href="#s" x="1025.0" y="1591.0"/><use href="#s" x="1038.0" y="1590.0"/><use href="#s" x="1062.4" y="1594.4"/><use href="#s" x="1029.2" y="1603.5"/><use href="#s" x="1038.5" y="1601.1"/><use href="#s" x="1047.6" y="1603.5"/><use href="#s" x="1051.3" y="1627.4"/><use href="#s" x="1123.4" y="1641.2"/><use href="#s" x="960.3" y="1615.8"/><use href="#s" x="960.3" y="1632.3"/><use href="#s" x="986.1" y="1636.7"/><use href="#s" x="983.6" y="1644.1"/><use href="#s" x="995.4" y="1647.3"/><use href="#s" x="977.5" y="1654.5"/><use href="#s" x="980.0" y="1657.7"/><use href="#s" x="935.2" y="1644.6"/><use href="#s" x="941.8" y="1654.5"/><use href="#s" x="938.1" y="1657.7"/><use href="#s" x="940.1" y="1668.2"/><use href="#s" x="988.1" y="1672.4"/><use href="#s" x="1031.1" y="1683.5"/><use href="#s" x="931.2" y="1629.4"/><use href="#s" x="892.1" y="1700.7"/><use href="#s" x="999.1" y="1718.4"/><use href="#s" x="960.3" y="1741.3"/><use href="#s" x="844.1" y="1684.2"/><use href="#s" x="858.2" y="1687.2"/><use href="#s" x="863.1" y="1687.2"/><use href="#s" x="717.9" y="1709.3"/><use href="#s" x="731.4" y="1707.6"/><use href="#s" x="1473.0" y="1217.2"/><use href="#s" x="1492.7" y="1215.3"/><use href="#s" x="1501.3" y="1219.2"/><use href="#s" x="1492.7" y="1246.3"/><use href="#s" x="1466.9" y="1252.9"/><use href="#s" x="1465.6" y="1260.3"/><use href="#s" x="1518.5" y="1254.1"/><use href="#s" x="1523.4" y="1257.8"/><use href="#s" x="1522.2" y="1265.2"/><use href="#s" x="1553.0" y="1263.5"/><use href="#s" x="1415.2" y="1276.3"/><use href="#s" x="1407.8" y="1282.4"/><use href="#s" x="1426.3" y="1288.1"/><use href="#s" x="1442.2" y="1284.4"/><use href="#s" x="1380.7" y="1287.3"/><use href="#s" x="1396.7" y="1294.7"/><use href="#s" x="1398.0" y="1302.1"/><use href="#s" x="1390.6" y="1308.3"/><use href="#s" x="1409.0" y="1308.3"/><use href="#s" x="1433.6" y="1310.7"/><use href="#s" x="1407.8" y="1320.6"/><use href="#s" x="1386.9" y="1323.0"/><use href="#s" x="1393.0" y="1320.6"/><use href="#s" x="1437.3" y="1320.6"/><use href="#s" x="1442.2" y="1326.7"/><use href="#s" x="1363.5" y="1311.9"/><use href="#s" x="1354.9" y="1323.0"/><use href="#s" x="1363.5" y="1325.5"/><use href="#s" x="1345.1" y="1332.9"/><use href="#s" x="1361.1" y="1332.9"/><use href="#s" x="1334.0" y="1326.7"/><use href="#s" x="1334.0" y="1335.3"/><use href="#s" x="1331.5" y="1345.2"/><use href="#s" x="1454.5" y="1352.5"/><use href="#s" x="1346.3" y="1369.8"/><use href="#s" x="1336.4" y="1357.5"/><use href="#s" x="1322.9" y="1363.6"/><use href="#s" x="1322.9" y="1367.3"/><use href="#s" x="1295.9" y="1372.2"/><use href="#s" x="1279.9" y="1369.8"/><use href="#s" x="1395.5" y="1379.6"/><use href="#s" x="1415.2" y="1374.7"/><use href="#s" x="1500.1" y="1379.6"/><use href="#s" x="1309.4" y="1388.2"/><use href="#s" x="1321.7" y="1383.3"/><use href="#s" x="1326.6" y="1387.0"/><use href="#s" x="1284.8" y="1387.0"/><use href="#s" x="1292.2" y="1384.5"/><use href="#s" x="1274.9" y="1389.4"/><use href="#s" x="1270.0" y="1395.6"/><use href="#s" x="1281.1" y="1396.8"/><use href="#s" x="1273.7" y="1403.0"/><use href="#s" x="1294.6" y="1405.4"/><use href="#s" x="1308.2" y="1406.7"/><use href="#s" x="1266.3" y="1377.1"/><use href="#s" x="1263.9" y="1382.1"/><use href="#s" x="1252.8" y="1379.6"/><use href="#s" x="1241.7" y="1378.4"/><use href="#s" x="1260.2" y="1401.8"/><use href="#s" x="1252.8" y="1403.0"/><use href="#s" x="1330.3" y="1415.3"/><use href="#s" x="1379.5" y="1416.5"/><use href="#s" x="1300.8" y="1416.5"/><use href="#s" x="1282.3" y="1419.0"/><use href="#s" x="1266.3" y="1422.7"/><use href="#s" x="1336.4" y="1431.3"/><use href="#s" x="1300.8" y="1430.0"/><use href="#s" x="1276.2" y="1442.3"/><use href="#s" x="1267.6" y="1446.0"/><use href="#s" x="1305.7" y="1449.7"/><use href="#s" x="1251.6" y="1432.5"/><use href="#s" x="1245.4" y="1436.2"/><use href="#s" x="1331.5" y="1469.4"/><use href="#s" x="1288.5" y="1474.3"/><use href="#s" x="1284.8" y="1482.9"/><use href="#s" x="1265.1" y="1481.7"/><use href="#s" x="1241.7" y="1476.8"/><use href="#s" x="1220.8" y="1480.5"/><use href="#s" x="1201.1" y="1473.1"/><use href="#s" x="1214.7" y="1465.7"/><use href="#s" x="1203.6" y="1465.7"/><use href="#s" x="1228.2" y="1453.4"/><use href="#s" x="1215.9" y="1451.0"/><use href="#s" x="1199.9" y="1449.7"/><use href="#s" x="1188.8" y="1449.7"/><use href="#s" x="1190.1" y="1442.3"/><use href="#s" x="1181.4" y="1464.5"/><use href="#s" x="1166.7" y="1482.9"/><use href="#s" x="1155.6" y="1476.8"/><use href="#s" x="1153.2" y="1498.9"/><use href="#s" x="1182.7" y="1510.0"/><use href="#s" x="1213.4" y="1512.5"/><use href="#s" x="1240.5" y="1511.2"/><use href="#s" x="1244.2" y="1522.3"/><use href="#s" x="1279.9" y="1522.3"/><use href="#s" x="1172.8" y="1524.8"/><use href="#s" x="1225.7" y="1532.2"/><use href="#s" x="1149.5" y="1546.9"/><use href="#s" x="1163.0" y="1543.2"/><use href="#s" x="1289.7" y="1561.7"/><use href="#s" x="1231.9" y="1567.8"/><use href="#s" x="1188.8" y="1566.6"/><use href="#s" x="1177.8" y="1571.5"/><use href="#s" x="1161.8" y="1577.7"/><use href="#s" x="1209.7" y="1583.8"/></g>
<line x1="297.5" y1="1996.2" x2="2067.5" y2="599.7" stroke="#000000" stroke-width="12.9" stroke-dasharray="12.9 11.10"/>
<path d="M297.5 1984.6L327.0 1961.4L356.5 1938.2L386.0 1915.0L415.5 1891.7L445.0 1868.5L474.5 1845.3L504.0 1822.0L533.5 1798.8L563.0 1775.5L592.5 1752.3L622.0 1729.1L651.5 1705.8L681.0 1682.5L710.5 1659.3L740.0 1636.0L769.5 1612.8L799.0 1589.5L828.5 1566.2L858.0 1543.0L887.5 1519.7L917.0 1496.4L946.5 1473.1L976.0 1449.9L1005.5 1426.6L1035.0 1403.3L1064.5 1380.0L1094.0 1356.7L1123.5 1333.4L1153.0 1310.1L1182.5 1286.8L1212.0 1263.5L1241.5 1240.2L1271.0 1216.9L1300.5 1193.6L1330.0 1170.3L1359.5 1147.0L1389.0 1123.6L1418.5 1100.3L1448.0 1077.0L1477.5 1053.7L1507.0 1030.3L1536.5 1007.0L1566.0 983.7L1595.5 960.3L1625.0 937.0L1654.5 913.7L1684.0 890.3L1713.5 867.0L1743.0 843.6L1772.5 820.3L1802.0 796.9L1831.5 773.6L1861.0 750.2L1890.5 726.8L1920.0 703.5L1949.5 680.1L1979.0 656.8L2008.5 633.4L2038.0 610.0L2067.5 586.7L2067.5 612.7L2038.0 635.9L2008.5 659.1L1979.0 682.3L1949.5 705.5L1920.0 728.7L1890.5 751.9L1861.0 775.0L1831.5 798.2L1802.0 821.4L1772.5 844.6L1743.0 867.8L1713.5 891.0L1684.0 914.2L1654.5 937.4L1625.0 960.7L1595.5 983.9L1566.0 1007.1L1536.5 1030.3L1507.0 1053.5L1477.5 1076.7L1448.0 1100.0L1418.5 1123.2L1389.0 1146.4L1359.5 1169.6L1330.0 1192.9L1300.5 1216.1L1271.0 1239.3L1241.5 1262.6L1212.0 1285.8L1182.5 1309.1L1153.0 1332.3L1123.5 1355.6L1094.0 1378.8L1064.5 1402.1L1035.0 1425.4L1005.5 1448.6L976.0 1471.9L946.5 1495.2L917.0 1518.4L887.5 1541.7L858.0 1565.0L828.5 1588.3L799.0 1611.5L769.5 1634.8L740.0 1658.1L710.5 1681.4L681.0 1704.7L651.5 1728.0L622.0 1751.3L592.5 1774.6L563.0 1797.9L533.5 1821.2L504.0 1844.5L474.5 1867.8L445.0 1891.2L415.5 1914.5L386.0 1937.8L356.5 1961.1L327.0 1984.5L297.5 2007.8Z" fill="#000" fill-opacity="0.1"/>
<g><use href="#mc" x="301.9" y="1893.5"/><use href="#mc" x="310.0" y="1899.0"/><use href="#mc" x="320.0" y="1882.0"/><use href="#mc" x="331.0" y="1888.0"/><use href="#mc" x="352.8" y="1867.3"/><use href="#mc" x="382.3" y="1847.6"/><use href="#mc" x="388.8" y="1849.3"/><use href="#mc" x="408.5" y="1842.7"/><use href="#mc" x="426.6" y="1831.2"/><use href="#mc" x="434.0" y="1826.0"/><use href="#mc" x="448.0" y="1820.0"/><use href="#mc" x="458.0" y="1812.0"/><use href="#mc" x="470.0" y="1808.0"/><use href="#mc" x="478.0" y="1812.0"/><use href="#mc" x="507.0" y="1793.5"/><use href="#mc" x="515.1" y="1785.3"/><use href="#mc" x="534.8" y="1777.1"/><use href="#mc" x="525.0" y="1732.8"/><use href="#mc" x="538.1" y="1723.0"/><use href="#mc" x="575.8" y="1765.6"/><use href="#mc" x="584.0" y="1745.9"/><use href="#mc" x="586.0" y="1679.0"/><use href="#mc" x="560.0" y="1768.0"/><use href="#mc" x="548.0" y="1772.0"/><use href="#mc" x="600.0" y="1741.0"/><use href="#mc" x="614.0" y="1732.0"/><use href="#mc" x="617.0" y="1710.0"/><use href="#mc" x="630.0" y="1725.0"/><use href="#mc" x="651.0" y="1717.0"/><use href="#mc" x="646.0" y="1688.0"/><use href="#mc" x="652.0" y="1721.0"/><use href="#mc" x="619.0" y="1701.0"/><use href="#mc" x="685.0" y="1573.5"/><use href="#mc" x="677.0" y="1593.0"/><use href="#mc" x="703.0" y="1587.0"/><use href="#mc" x="750.6" y="1594.8"/><use href="#mc" x="749.8" y="1521.8"/><use href="#mc" x="817.8" y="1507.9"/><use href="#mc" x="828.0" y="1512.0"/><use href="#mc" x="858.8" y="1484.9"/><use href="#mc" x="816.2" y="1609.6"/><use href="#mc" x="806.3" y="1594.8"/><use href="#mc" x="875.2" y="1570.2"/><use href="#mc" x="717.8" y="1630.9"/><use href="#mc" x="694.8" y="1652.2"/><use href="#mc" x="721.0" y="1670.3"/><use href="#mc" x="748.9" y="1667.0"/><use href="#mc" x="778.5" y="1663.7"/><use href="#mc" x="711.8" y="1636.7"/><use href="#mc" x="817.6" y="1607.2"/><use href="#mc" x="705.0" y="1653.0"/><use href="#mc" x="715.0" y="1634.0"/><use href="#mc" x="740.0" y="1668.0"/><use href="#mc" x="688.0" y="1575.0"/><use href="#mc" x="677.0" y="1590.0"/><use href="#mc" x="745.0" y="1597.0"/><use href="#mc" x="1093.1" y="1244.3"/><use href="#mc" x="1011.9" y="1261.5"/><use href="#mc" x="1090.7" y="1273.8"/><use href="#mc" x="1120.2" y="1265.2"/><use href="#mc" x="1139.9" y="1252.9"/><use href="#mc" x="970.1" y="1309.5"/><use href="#mc" x="1046.4" y="1308.3"/><use href="#mc" x="1132.5" y="1296.0"/><use href="#mc" x="943.0" y="1361.2"/><use href="#mc" x="975.0" y="1352.5"/><use href="#mc" x="1002.1" y="1345.2"/><use href="#mc" x="994.7" y="1378.4"/><use href="#mc" x="1035.3" y="1377.1"/><use href="#mc" x="1075.9" y="1343.9"/><use href="#mc" x="1105.4" y="1347.6"/><use href="#mc" x="1134.9" y="1359.9"/><use href="#mc" x="882.8" y="1389.5"/><use href="#mc" x="960.3" y="1411.6"/><use href="#mc" x="987.3" y="1406.7"/><use href="#mc" x="1026.7" y="1421.4"/><use href="#mc" x="1080.8" y="1431.3"/><use href="#mc" x="827.4" y="1423.9"/><use href="#mc" x="810.2" y="1435.0"/><use href="#mc" x="853.2" y="1446.0"/><use href="#mc" x="901.2" y="1439.9"/><use href="#mc" x="881.5" y="1465.7"/><use href="#mc" x="861.8" y="1481.7"/><use href="#mc" x="913.5" y="1460.8"/><use href="#mc" x="962.7" y="1453.4"/><use href="#mc" x="1016.9" y="1473.1"/><use href="#mc" x="1051.3" y="1454.6"/><use href="#mc" x="992.2" y="1487.9"/><use href="#mc" x="980.0" y="1510.0"/><use href="#mc" x="997.2" y="1502.6"/><use href="#mc" x="817.6" y="1507.5"/><use href="#mc" x="893.8" y="1495.2"/><use href="#mc" x="913.5" y="1514.9"/><use href="#mc" x="879.1" y="1569.0"/><use href="#mc" x="960.3" y="1570.3"/><use href="#mc" x="701.9" y="1571.5"/><use href="#mc" x="802.8" y="1588.7"/><use href="#mc" x="938.1" y="1591.2"/><use href="#mc" x="940.0" y="1470.0"/><use href="#mc" x="930.0" y="1430.0"/><use href="#mc" x="1060.0" y="1400.0"/><use href="#mc" x="1000.0" y="1440.0"/><use href="#mc" x="1183.9" y="1211.1"/><use href="#mc" x="1170.4" y="1232.0"/><use href="#mc" x="1154.4" y="1229.5"/><use href="#mc" x="1227.0" y="1240.6"/><use href="#mc" x="1203.6" y="1259.0"/><use href="#mc" x="1169.1" y="1268.9"/><use href="#mc" x="1279.9" y="1213.5"/><use href="#mc" x="1319.7" y="1221.7"/><use href="#mc" x="1378.0" y="1216.4"/><use href="#mc" x="1409.0" y="1207.4"/><use href="#mc" x="1434.9" y="1245.5"/><use href="#mc" x="1358.4" y="1271.5"/><use href="#mc" x="1325.4" y="1307.0"/><use href="#mc" x="1234.3" y="1304.6"/><use href="#mc" x="1156.8" y="1352.5"/><use href="#mc" x="1375.3" y="1452.2"/><use href="#mc" x="1604.7" y="1407.0"/><use href="#mc" x="1433.6" y="903.3"/><use href="#mc" x="1500.1" y="967.3"/><use href="#mc" x="1389.4" y="1023.9"/><use href="#mc" x="1347.5" y="1039.9"/><use href="#mc" x="1465.3" y="1041.3"/><use href="#mc" x="1538.2" y="1042.3"/><use href="#mc" x="1182.7" y="1117.4"/><use href="#mc" x="1225.7" y="1127.2"/><use href="#mc" x="1270.0" y="1121.1"/><use href="#mc" x="1235.6" y="1154.3"/><use href="#mc" x="1600.0" y="1119.5"/><use href="#mc" x="1183.9" y="1199.8"/><use href="#mc" x="1277.4" y="1199.8"/><use href="#mc" x="1410.3" y="1196.1"/><use href="#mc" x="1122.6" y="1150.6"/><use href="#mc" x="1711.4" y="819.9"/><use href="#mc" x="1640.7" y="945.3"/></g>
<line x1="297.5" y1="1924.9" x2="2067.5" y2="657.8" stroke="#0000ff" stroke-width="12.9" stroke-dasharray="12.9 11.10"/>
<path d="M297.5 1903.2L327.0 1882.6L356.5 1861.9L386.0 1841.2L415.5 1820.5L445.0 1799.7L474.5 1778.9L504.0 1758.1L533.5 1737.3L563.0 1716.4L592.5 1695.4L622.0 1674.4L651.5 1653.4L681.0 1632.3L710.5 1611.2L740.0 1590.1L769.5 1568.9L799.0 1547.6L828.5 1526.3L858.0 1505.0L887.5 1483.7L917.0 1462.3L946.5 1440.8L976.0 1419.4L1005.5 1397.9L1035.0 1376.3L1064.5 1354.8L1094.0 1333.2L1123.5 1311.5L1153.0 1289.9L1182.5 1268.2L1212.0 1246.6L1241.5 1224.9L1271.0 1203.1L1300.5 1181.4L1330.0 1159.7L1359.5 1137.9L1389.0 1116.1L1418.5 1094.3L1448.0 1072.5L1477.5 1050.7L1507.0 1028.9L1536.5 1007.0L1566.0 985.2L1595.5 963.4L1625.0 941.5L1654.5 919.6L1684.0 897.8L1713.5 875.9L1743.0 854.0L1772.5 832.1L1802.0 810.2L1831.5 788.3L1861.0 766.4L1890.5 744.5L1920.0 722.6L1949.5 700.7L1979.0 678.8L2008.5 656.9L2038.0 634.9L2067.5 613.0L2067.5 702.6L2038.0 722.9L2008.5 743.2L1979.0 763.5L1949.5 783.9L1920.0 804.2L1890.5 824.5L1861.0 844.8L1831.5 865.2L1802.0 885.5L1772.5 905.9L1743.0 926.2L1713.5 946.6L1684.0 966.9L1654.5 987.3L1625.0 1007.7L1595.5 1028.0L1566.0 1048.4L1536.5 1068.8L1507.0 1089.2L1477.5 1109.6L1448.0 1130.1L1418.5 1150.5L1389.0 1170.9L1359.5 1191.4L1330.0 1211.9L1300.5 1232.3L1271.0 1252.8L1241.5 1273.4L1212.0 1293.9L1182.5 1314.4L1153.0 1335.0L1123.5 1355.6L1094.0 1376.2L1064.5 1396.9L1035.0 1417.5L1005.5 1438.2L976.0 1459.0L946.5 1479.7L917.0 1500.5L887.5 1521.4L858.0 1542.3L828.5 1563.2L799.0 1584.1L769.5 1605.1L740.0 1626.1L710.5 1647.2L681.0 1668.4L651.5 1689.5L622.0 1710.7L592.5 1732.0L563.0 1753.3L533.5 1774.6L504.0 1796.0L474.5 1817.4L445.0 1838.8L415.5 1860.3L386.0 1881.8L356.5 1903.4L327.0 1925.0L297.5 1946.5Z" fill="#0000ff" fill-opacity="0.1"/>
<g><use href="#md" x="1550.8" y="1052.5"/><use href="#md" x="1457.0" y="1077.0"/><use href="#md" x="1370.0" y="1164.0"/><use href="#md" x="1421.0" y="1155.0"/><use href="#md" x="1442.0" y="1222.0"/><use href="#md" x="1306.5" y="1280.0"/><use href="#md" x="1344.5" y="1268.0"/><use href="#md" x="1230.5" y="1399.0"/><use href="#md" x="1142.4" y="1429.2"/><use href="#md" x="1166.0" y="1447.5"/><use href="#md" x="1105.4" y="1559.2"/><use href="#md" x="1018.1" y="1551.8"/><use href="#md" x="904.9" y="1624.4"/><use href="#md" x="772.5" y="1645.0"/><use href="#md" x="846.5" y="1557.0"/></g>
<line x1="297.5" y1="2095.1" x2="2067.5" y2="669.4" stroke="#00ff00" stroke-width="12.9" stroke-dasharray="12.9 11.10"/>
<path d="M297.5 1954.3L327.0 1934.8L356.5 1915.4L386.0 1895.9L415.5 1876.5L445.0 1857.0L474.5 1837.5L504.0 1818.0L533.5 1798.5L563.0 1778.9L592.5 1759.4L622.0 1739.8L651.5 1720.2L681.0 1700.5L710.5 1680.9L740.0 1661.2L769.5 1641.4L799.0 1621.6L828.5 1601.7L858.0 1581.7L887.5 1561.7L917.0 1541.5L946.5 1521.2L976.0 1500.8L1005.5 1480.1L1035.0 1459.2L1064.5 1438.0L1094.0 1416.4L1123.5 1394.4L1153.0 1372.0L1182.5 1348.9L1212.0 1325.3L1241.5 1301.1L1271.0 1276.3L1300.5 1251.0L1330.0 1225.2L1359.5 1199.0L1389.0 1172.6L1418.5 1145.8L1448.0 1118.8L1477.5 1091.7L1507.0 1064.4L1536.5 1036.9L1566.0 1009.4L1595.5 981.8L1625.0 954.1L1654.5 926.4L1684.0 898.6L1713.5 870.8L1743.0 842.9L1772.5 815.0L1802.0 787.1L1831.5 759.1L1861.0 731.1L1890.5 703.2L1920.0 675.1L1949.5 647.1L1979.0 619.1L2008.5 591.0L2038.0 563.0L2067.5 534.9L2067.5 804.0L2038.0 823.4L2008.5 842.9L1979.0 862.4L1949.5 881.8L1920.0 901.3L1890.5 920.8L1861.0 940.4L1831.5 959.9L1802.0 979.5L1772.5 999.1L1743.0 1018.7L1713.5 1038.4L1684.0 1058.1L1654.5 1077.8L1625.0 1097.6L1595.5 1117.4L1566.0 1137.3L1536.5 1157.3L1507.0 1177.4L1477.5 1197.6L1448.0 1218.0L1418.5 1238.6L1389.0 1259.3L1359.5 1280.4L1330.0 1301.7L1300.5 1323.5L1271.0 1345.7L1241.5 1368.4L1212.0 1391.7L1182.5 1415.6L1153.0 1440.1L1123.5 1465.1L1094.0 1490.7L1064.5 1516.6L1035.0 1543.0L1005.5 1569.6L976.0 1596.4L946.5 1623.5L917.0 1650.7L887.5 1678.1L858.0 1705.5L828.5 1733.1L799.0 1760.8L769.5 1788.5L740.0 1816.2L710.5 1844.0L681.0 1871.9L651.5 1899.8L622.0 1927.7L592.5 1955.6L563.0 1983.6L533.5 2011.6L504.0 2039.6L474.5 2067.6L445.0 2095.6L415.5 2123.7L386.0 2151.7L356.5 2179.8L327.0 2207.9L297.5 2236.0Z" fill="#00ff00" fill-opacity="0.1"/>
<g><use href="#mv" x="1641.5" y="818.5"/><use href="#mv" x="1440.6" y="1056.3"/><use href="#mv" x="1439.7" y="1098.7"/><use href="#mv" x="1430.0" y="1103.0"/><use href="#mv" x="1476.1" y="1113.8"/><use href="#mv" x="1342.0" y="1212.8"/><use href="#mv" x="1171.6" y="1401.8"/><use href="#mv" x="1196.2" y="1416.5"/><use href="#mv" x="1093.1" y="1455.9"/><use href="#mv" x="945.5" y="1610.9"/><use href="#mv" x="870.5" y="1614.6"/><use href="#mv" x="773.5" y="1616.0"/><use href="#mv" x="694.0" y="1590.0"/><use href="#mv" x="405.3" y="1844.2"/><use href="#mv" x="358.5" y="1867.6"/></g>
<line x1="297.5" y1="1979.1" x2="2067.5" y2="653.7" stroke="#ff00ff" stroke-width="12.9" stroke-dasharray="12.9 11.10"/>
<path d="M297.5 1877.8L327.0 1858.9L356.5 1840.0L386.0 1821.0L415.5 1802.0L445.0 1782.9L474.5 1763.8L504.0 1744.7L533.5 1725.6L563.0 1706.4L592.5 1687.1L622.0 1667.8L651.5 1648.4L681.0 1629.0L710.5 1609.4L740.0 1589.8L769.5 1570.0L799.0 1550.1L828.5 1530.1L858.0 1509.9L887.5 1489.6L917.0 1469.0L946.5 1448.3L976.0 1427.3L1005.5 1406.0L1035.0 1384.5L1064.5 1362.6L1094.0 1340.5L1123.5 1318.1L1153.0 1295.5L1182.5 1272.5L1212.0 1249.3L1241.5 1225.9L1271.0 1202.3L1300.5 1178.4L1330.0 1154.4L1359.5 1130.2L1389.0 1105.9L1418.5 1081.5L1448.0 1056.9L1477.5 1032.3L1507.0 1007.6L1536.5 982.8L1566.0 957.9L1595.5 933.0L1625.0 908.0L1654.5 883.0L1684.0 857.9L1713.5 832.8L1743.0 807.6L1772.5 782.5L1802.0 757.3L1831.5 732.1L1861.0 706.8L1890.5 681.5L1920.0 656.3L1949.5 630.9L1979.0 605.6L2008.5 580.3L2038.0 554.9L2067.5 529.6L2067.5 777.8L2038.0 796.6L2008.5 815.5L1979.0 834.3L1949.5 853.2L1920.0 872.1L1890.5 891.0L1861.0 909.9L1831.5 928.8L1802.0 947.8L1772.5 966.7L1743.0 985.8L1713.5 1004.8L1684.0 1023.9L1654.5 1043.0L1625.0 1062.1L1595.5 1081.3L1566.0 1100.6L1536.5 1119.9L1507.0 1139.3L1477.5 1158.7L1448.0 1178.3L1418.5 1197.9L1389.0 1217.6L1359.5 1237.5L1330.0 1257.5L1300.5 1277.7L1271.0 1298.0L1241.5 1318.5L1212.0 1339.3L1182.5 1360.3L1153.0 1381.5L1123.5 1403.0L1094.0 1424.8L1064.5 1446.9L1035.0 1469.3L1005.5 1491.9L976.0 1514.8L946.5 1538.0L917.0 1561.4L887.5 1585.0L858.0 1608.9L828.5 1632.9L799.0 1657.0L769.5 1681.3L740.0 1705.8L710.5 1730.3L681.0 1754.9L651.5 1779.6L622.0 1804.4L592.5 1829.3L563.0 1854.2L533.5 1879.2L504.0 1904.2L474.5 1929.3L445.0 1954.4L415.5 1979.5L386.0 2004.7L356.5 2029.9L327.0 2055.1L297.5 2080.4Z" fill="#ff00ff" fill-opacity="0.1"/>
<g><use href="#mu" x="1970.0" y="570.0"/><use href="#mu" x="1768.7" y="682.9"/><use href="#mu" x="1655.6" y="722.7"/><use href="#mu" x="1737.0" y="746.0"/><use href="#mu" x="1556.0" y="928.5"/><use href="#mu" x="1727.0" y="910.0"/><use href="#mu" x="1302.5" y="1238.7"/><use href="#mu" x="909.8" y="1373.5"/><use href="#mu" x="857.5" y="1551.0"/><use href="#mu" x="606.5" y="1690.0"/><use href="#mu" x="694.0" y="1677.0"/><use href="#mu" x="694.0" y="1708.0"/></g>
<line x1="297.5" y1="2002.1" x2="2067.5" y2="488.9" stroke="#ff0000" stroke-width="12.9" stroke-dasharray="12.9 11.10"/>
<path d="M297.5 1891.2L327.0 1868.2L356.5 1845.3L386.0 1822.3L415.5 1799.2L445.0 1776.2L474.5 1753.1L504.0 1730.0L533.5 1706.8L563.0 1683.6L592.5 1660.4L622.0 1637.2L651.5 1613.9L681.0 1590.5L710.5 1567.1L740.0 1543.7L769.5 1520.2L799.0 1496.6L828.5 1473.0L858.0 1449.3L887.5 1425.5L917.0 1401.7L946.5 1377.8L976.0 1353.8L1005.5 1329.7L1035.0 1305.5L1064.5 1281.2L1094.0 1256.8L1123.5 1232.3L1153.0 1207.7L1182.5 1183.0L1212.0 1158.2L1241.5 1133.2L1271.0 1108.1L1300.5 1083.0L1330.0 1057.6L1359.5 1032.2L1389.0 1006.6L1418.5 981.0L1448.0 955.2L1477.5 929.3L1507.0 903.3L1536.5 877.2L1566.0 851.0L1595.5 824.6L1625.0 798.3L1654.5 771.8L1684.0 745.2L1713.5 718.6L1743.0 691.8L1772.5 665.0L1802.0 638.2L1831.5 611.3L1861.0 584.3L1890.5 557.3L1920.0 530.2L1949.5 503.1L1979.0 475.9L2008.5 448.7L2038.0 421.5L2067.5 394.2L2067.5 583.7L2038.0 606.8L2008.5 630.0L1979.0 653.3L1949.5 676.6L1920.0 699.9L1890.5 723.2L1861.0 746.7L1831.5 770.1L1802.0 793.7L1772.5 817.2L1743.0 840.9L1713.5 864.6L1684.0 888.4L1654.5 912.3L1625.0 936.2L1595.5 960.3L1566.0 984.4L1536.5 1008.6L1507.0 1033.0L1477.5 1057.4L1448.0 1081.9L1418.5 1106.6L1389.0 1131.4L1359.5 1156.2L1330.0 1181.2L1300.5 1206.4L1271.0 1231.6L1241.5 1257.0L1212.0 1282.5L1182.5 1308.1L1153.0 1333.8L1123.5 1359.6L1094.0 1385.6L1064.5 1411.6L1035.0 1437.8L1005.5 1464.0L976.0 1490.4L946.5 1516.8L917.0 1543.3L887.5 1569.9L858.0 1596.6L828.5 1623.4L799.0 1650.2L769.5 1677.1L740.0 1704.0L710.5 1731.0L681.0 1758.0L651.5 1785.1L622.0 1812.3L592.5 1839.4L563.0 1866.7L533.5 1893.9L504.0 1921.2L474.5 1948.5L445.0 1975.9L415.5 2003.3L386.0 2030.7L356.5 2058.1L327.0 2085.6L297.5 2113.1Z" fill="#ff0000" fill-opacity="0.1"/>
</g>
<g stroke="#262626" stroke-width="2.2" fill="none">
<rect x="297.5" y="189.5" width="1770.0" height="2051.0"/>
<line x1="297.5" y1="2240.5" x2="297.5" y2="2219.5"/><line x1="297.5" y1="189.5" x2="297.5" y2="210.5"/>
<line x1="518.8" y1="2240.5" x2="518.8" y2="2219.5"/><line x1="518.8" y1="189.5" x2="518.8" y2="210.5"/>
<line x1="740.0" y1="2240.5" x2="740.0" y2="2219.5"/><line x1="740.0" y1="189.5" x2="740.0" y2="210.5"/>
<line x1="961.2" y1="2240.5" x2="961.2" y2="2219.5"/><line x1="961.2" y1="189.5" x2="961.2" y2="210.5"/>
<line x1="1182.5" y1="2240.5" x2="1182.5" y2="2219.5"/><line x1="1182.5" y1="189.5" x2="1182.5" y2="210.5"/>
<line x1="1403.8" y1="2240.5" x2="1403.8" y2="2219.5"/><line x1="1403.8" y1="189.5" x2="1403.8" y2="210.5"/>
<line x1="1625.0" y1="2240.5" x2="1625.0" y2="2219.5"/><line x1="1625.0" y1="189.5" x2="1625.0" y2="210.5"/>
<line x1="1846.2" y1="2240.5" x2="1846.2" y2="2219.5"/><line x1="1846.2" y1="189.5" x2="1846.2" y2="210.5"/>
<line x1="2067.5" y1="2240.5" x2="2067.5" y2="2219.5"/><line x1="2067.5" y1="189.5" x2="2067.5" y2="210.5"/>
<line x1="297.5" y1="2240.5" x2="318.5" y2="2240.5"/><line x1="2067.5" y1="2240.5" x2="2046.5" y2="2240.5"/>
<line x1="297.5" y1="2012.6" x2="318.5" y2="2012.6"/><line x1="2067.5" y1="2012.6" x2="2046.5" y2="2012.6"/>
<line x1="297.5" y1="1784.7" x2="318.5" y2="1784.7"/><line x1="2067.5" y1="1784.7" x2="2046.5" y2="1784.7"/>
<line x1="297.5" y1="1556.8" x2="318.5" y2="1556.8"/><line x1="2067.5" y1="1556.8" x2="2046.5" y2="1556.8"/>
<line x1="297.5" y1="1328.9" x2="318.5" y2="1328.9"/><line x1="2067.5" y1="1328.9" x2="2046.5" y2="1328.9"/>
<line x1="297.5" y1="1101.1" x2="318.5" y2="1101.1"/><line x1="2067.5" y1="1101.1" x2="2046.5" y2="1101.1"/>
<line x1="297.5" y1="873.2" x2="318.5" y2="873.2"/><line x1="2067.5" y1="873.2" x2="2046.5" y2="873.2"/>
<line x1="297.5" y1="645.3" x2="318.5" y2="645.3"/><line x1="2067.5" y1="645.3" x2="2046.5" y2="645.3"/>
<line x1="297.5" y1="417.4" x2="318.5" y2="417.4"/><line x1="2067.5" y1="417.4" x2="2046.5" y2="417.4"/>
<line x1="297.5" y1="189.5" x2="318.5" y2="189.5"/><line x1="2067.5" y1="189.5" x2="2046.5" y2="189.5"/>
</g>
<g fill="#262626" font-size="43">
<text x="279.5" y="2252.5" text-anchor="end">-1.5</text>
<text x="279.5" y="2024.6" text-anchor="end">-1</text>
<text x="279.5" y="1796.7" text-anchor="end">-0.5</text>
<text x="279.5" y="1568.8" text-anchor="end">0</text>
<text x="279.5" y="1340.9" text-anchor="end">0.5</text>
<text x="279.5" y="1113.1" text-anchor="end">1</text>
<text x="279.5" y="885.2" text-anchor="end">1.5</text>
<text x="279.5" y="657.3" text-anchor="end">2</text>
<text x="279.5" y="429.4" text-anchor="end">2.5</text>
<text x="279.5" y="201.5" text-anchor="end">3</text>
<text x="297.5" y="2290.5" text-anchor="middle">-1.5</text>
<text x="518.8" y="2290.5" text-anchor="middle">-1</text>
<text x="740.0" y="2290.5" text-anchor="middle">-0.5</text>
<text x="961.2" y="2290.5" text-anchor="middle">0</text>
<text x="1182.5" y="2290.5" text-anchor="middle">0.5</text>
<text x="1403.8" y="2290.5" text-anchor="middle">1</text>
<text x="1625.0" y="2290.5" text-anchor="middle">1.5</text>
<text x="1846.2" y="2290.5" text-anchor="middle">2</text>
<text x="2067.5" y="2290.5" text-anchor="middle">2.5</text>
<text x="1182.5" y="2340.5" text-anchor="middle" font-size="46.2">log10 of mean of sz.freq / month</text>
<text transform="translate(185,1207) rotate(-90)" text-anchor="middle" font-size="45.6">Log10 of std dev sz.freq / month</text>
</g>
<text x="1182.5" y="175" text-anchor="middle" font-size="46" font-weight="bold" fill="#000">All data sets</text>
<rect x="338.5" y="230" width="867.0" height="733" fill="#fff" stroke="#262626" stroke-width="2"/>
<use href="#s" x="424.5" y="259.0"/>
<line x1="362.8" y1="309.5" x2="487.2" y2="309.5" stroke="#000000" stroke-width="12.9" stroke-dasharray="12.9 11"/>
<rect x="362.8" y="342.8" width="124.4" height="31" fill="#000000"/>
<g font-size="38.15" fill="#000">
<text x="498.5" y="270.0">SeizureTracker.com</text>
<text x="498.5" y="325.1">(fit) N=3016, R<tspan dy="-18" font-size="27.5">2</tspan><tspan dy="18">=0.827, y=0.766x + 0.185</tspan></text>
<text x="498.5" y="368.9">95% confidence area</text>
</g>
<use href="#mc" x="424.5" y="402.3"/>
<line x1="362.8" y1="452.8" x2="487.2" y2="452.8" stroke="#0000ff" stroke-width="12.9" stroke-dasharray="12.9 11"/>
<rect x="362.8" y="486.1" width="124.4" height="31" fill="#0000ff"/>
<g font-size="38.15" fill="#000">
<text x="498.5" y="413.3">HEP</text>
<text x="498.5" y="468.4">(fit) N=274 R<tspan dy="-18" font-size="27.5">2</tspan><tspan dy="18">=0.901, y=0.695x + 0.235</tspan></text>
<text x="498.5" y="512.2">95% confidence area</text>
</g>
<use href="#md" x="424.5" y="545.6"/>
<line x1="362.8" y1="596.1" x2="487.2" y2="596.1" stroke="#00ff00" stroke-width="12.9" stroke-dasharray="12.9 11"/>
<rect x="362.8" y="629.4" width="124.4" height="31" fill="#00ff00"/>
<g font-size="38.15" fill="#000">
<text x="498.5" y="556.6">NeuroVista (Clincial)</text>
<text x="498.5" y="611.7">(fit) N=15 R<tspan dy="-18" font-size="27.5">2</tspan><tspan dy="18">=0.911, y=0.782x + -0.008</tspan></text>
<text x="498.5" y="655.5">95% confidence area</text>
</g>
<use href="#mv" x="424.5" y="688.9"/>
<line x1="362.8" y1="739.4" x2="487.2" y2="739.4" stroke="#ff00ff" stroke-width="12.9" stroke-dasharray="12.9 11"/>
<rect x="362.8" y="772.7" width="124.4" height="31" fill="#ff00ff"/>
<g font-size="38.15" fill="#000">
<text x="498.5" y="699.9">NeuroVista (Clinical=)</text>
<text x="498.5" y="755.0">(fit) N=15 R<tspan dy="-18" font-size="27.5">2</tspan><tspan dy="18">=0.935, y=0.727x + 0.164</tspan></text>
<text x="498.5" y="798.8">95% confidence area</text>
</g>
<use href="#mu" x="424.5" y="832.2"/>
<line x1="362.8" y1="882.7" x2="487.2" y2="882.7" stroke="#ff0000" stroke-width="12.9" stroke-dasharray="12.9 11"/>
<rect x="362.8" y="916.0" width="124.4" height="31" fill="#ff0000"/>
<g font-size="38.15" fill="#000">
<text x="498.5" y="843.2">NeuroVista (Electrical)</text>
<text x="498.5" y="898.3">(fit) N=12 R<tspan dy="-18" font-size="27.5">2</tspan><tspan dy="18">=0.971, y=0.830x + 0.268</tspan></text>
<text x="498.5" y="942.1">95% confidence area</text>
</g>
</svg></body></html>
